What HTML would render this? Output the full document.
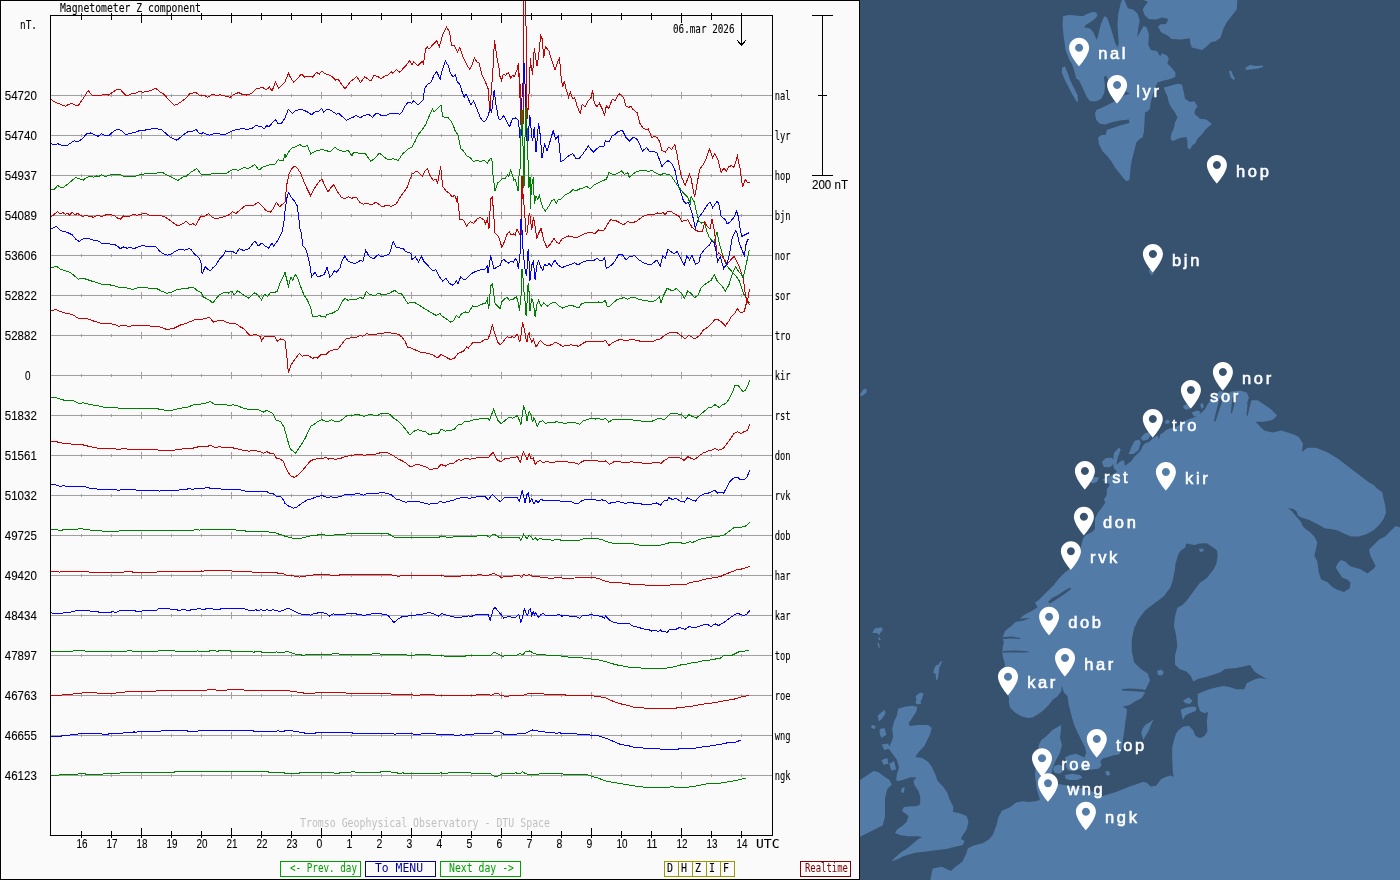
<!DOCTYPE html>
<html><head><meta charset="utf-8"><title>Magnetometer Z component</title>
<style>html,body{margin:0;padding:0;background:#37526f;width:1400px;height:880px;overflow:hidden}
#wrap{position:relative;width:1400px;height:880px}</style></head>
<body><div id="wrap"><svg width="860" height="880" viewBox="0 0 860 880" shape-rendering="crispEdges" style="position:absolute;left:0;top:0;will-change:transform"><rect x="0" y="0" width="860" height="880" fill="#fafafa"/><path d="M51 95.5H772 M81.5 94V97 M111.5 94V97 M141.5 92V99 M171.5 94V97 M201.5 94V97 M231.5 92V99 M261.5 94V97 M291.5 94V97 M321.5 92V99 M351.5 94V97 M381.5 94V97 M411.5 92V99 M441.5 94V97 M471.5 94V97 M501.5 92V99 M531.5 94V97 M561.5 94V97 M591.5 92V99 M621.5 94V97 M651.5 94V97 M681.5 92V99 M711.5 94V97 M741.5 94V97 M51 135.5H772 M81.5 134V137 M111.5 134V137 M141.5 132V139 M171.5 134V137 M201.5 134V137 M231.5 132V139 M261.5 134V137 M291.5 134V137 M321.5 132V139 M351.5 134V137 M381.5 134V137 M411.5 132V139 M441.5 134V137 M471.5 134V137 M501.5 132V139 M531.5 134V137 M561.5 134V137 M591.5 132V139 M621.5 134V137 M651.5 134V137 M681.5 132V139 M711.5 134V137 M741.5 134V137 M51 175.5H772 M81.5 174V177 M111.5 174V177 M141.5 172V179 M171.5 174V177 M201.5 174V177 M231.5 172V179 M261.5 174V177 M291.5 174V177 M321.5 172V179 M351.5 174V177 M381.5 174V177 M411.5 172V179 M441.5 174V177 M471.5 174V177 M501.5 172V179 M531.5 174V177 M561.5 174V177 M591.5 172V179 M621.5 174V177 M651.5 174V177 M681.5 172V179 M711.5 174V177 M741.5 174V177 M51 215.5H772 M81.5 214V217 M111.5 214V217 M141.5 212V219 M171.5 214V217 M201.5 214V217 M231.5 212V219 M261.5 214V217 M291.5 214V217 M321.5 212V219 M351.5 214V217 M381.5 214V217 M411.5 212V219 M441.5 214V217 M471.5 214V217 M501.5 212V219 M531.5 214V217 M561.5 214V217 M591.5 212V219 M621.5 214V217 M651.5 214V217 M681.5 212V219 M711.5 214V217 M741.5 214V217 M51 255.5H772 M81.5 254V257 M111.5 254V257 M141.5 252V259 M171.5 254V257 M201.5 254V257 M231.5 252V259 M261.5 254V257 M291.5 254V257 M321.5 252V259 M351.5 254V257 M381.5 254V257 M411.5 252V259 M441.5 254V257 M471.5 254V257 M501.5 252V259 M531.5 254V257 M561.5 254V257 M591.5 252V259 M621.5 254V257 M651.5 254V257 M681.5 252V259 M711.5 254V257 M741.5 254V257 M51 295.5H772 M81.5 294V297 M111.5 294V297 M141.5 292V299 M171.5 294V297 M201.5 294V297 M231.5 292V299 M261.5 294V297 M291.5 294V297 M321.5 292V299 M351.5 294V297 M381.5 294V297 M411.5 292V299 M441.5 294V297 M471.5 294V297 M501.5 292V299 M531.5 294V297 M561.5 294V297 M591.5 292V299 M621.5 294V297 M651.5 294V297 M681.5 292V299 M711.5 294V297 M741.5 294V297 M51 335.5H772 M81.5 334V337 M111.5 334V337 M141.5 332V339 M171.5 334V337 M201.5 334V337 M231.5 332V339 M261.5 334V337 M291.5 334V337 M321.5 332V339 M351.5 334V337 M381.5 334V337 M411.5 332V339 M441.5 334V337 M471.5 334V337 M501.5 332V339 M531.5 334V337 M561.5 334V337 M591.5 332V339 M621.5 334V337 M651.5 334V337 M681.5 332V339 M711.5 334V337 M741.5 334V337 M51 375.5H772 M81.5 374V377 M111.5 374V377 M141.5 372V379 M171.5 374V377 M201.5 374V377 M231.5 372V379 M261.5 374V377 M291.5 374V377 M321.5 372V379 M351.5 374V377 M381.5 374V377 M411.5 372V379 M441.5 374V377 M471.5 374V377 M501.5 372V379 M531.5 374V377 M561.5 374V377 M591.5 372V379 M621.5 374V377 M651.5 374V377 M681.5 372V379 M711.5 374V377 M741.5 374V377 M51 415.5H772 M81.5 414V417 M111.5 414V417 M141.5 412V419 M171.5 414V417 M201.5 414V417 M231.5 412V419 M261.5 414V417 M291.5 414V417 M321.5 412V419 M351.5 414V417 M381.5 414V417 M411.5 412V419 M441.5 414V417 M471.5 414V417 M501.5 412V419 M531.5 414V417 M561.5 414V417 M591.5 412V419 M621.5 414V417 M651.5 414V417 M681.5 412V419 M711.5 414V417 M741.5 414V417 M51 455.5H772 M81.5 454V457 M111.5 454V457 M141.5 452V459 M171.5 454V457 M201.5 454V457 M231.5 452V459 M261.5 454V457 M291.5 454V457 M321.5 452V459 M351.5 454V457 M381.5 454V457 M411.5 452V459 M441.5 454V457 M471.5 454V457 M501.5 452V459 M531.5 454V457 M561.5 454V457 M591.5 452V459 M621.5 454V457 M651.5 454V457 M681.5 452V459 M711.5 454V457 M741.5 454V457 M51 495.5H772 M81.5 494V497 M111.5 494V497 M141.5 492V499 M171.5 494V497 M201.5 494V497 M231.5 492V499 M261.5 494V497 M291.5 494V497 M321.5 492V499 M351.5 494V497 M381.5 494V497 M411.5 492V499 M441.5 494V497 M471.5 494V497 M501.5 492V499 M531.5 494V497 M561.5 494V497 M591.5 492V499 M621.5 494V497 M651.5 494V497 M681.5 492V499 M711.5 494V497 M741.5 494V497 M51 535.5H772 M81.5 534V537 M111.5 534V537 M141.5 532V539 M171.5 534V537 M201.5 534V537 M231.5 532V539 M261.5 534V537 M291.5 534V537 M321.5 532V539 M351.5 534V537 M381.5 534V537 M411.5 532V539 M441.5 534V537 M471.5 534V537 M501.5 532V539 M531.5 534V537 M561.5 534V537 M591.5 532V539 M621.5 534V537 M651.5 534V537 M681.5 532V539 M711.5 534V537 M741.5 534V537 M51 575.5H772 M81.5 574V577 M111.5 574V577 M141.5 572V579 M171.5 574V577 M201.5 574V577 M231.5 572V579 M261.5 574V577 M291.5 574V577 M321.5 572V579 M351.5 574V577 M381.5 574V577 M411.5 572V579 M441.5 574V577 M471.5 574V577 M501.5 572V579 M531.5 574V577 M561.5 574V577 M591.5 572V579 M621.5 574V577 M651.5 574V577 M681.5 572V579 M711.5 574V577 M741.5 574V577 M51 615.5H772 M81.5 614V617 M111.5 614V617 M141.5 612V619 M171.5 614V617 M201.5 614V617 M231.5 612V619 M261.5 614V617 M291.5 614V617 M321.5 612V619 M351.5 614V617 M381.5 614V617 M411.5 612V619 M441.5 614V617 M471.5 614V617 M501.5 612V619 M531.5 614V617 M561.5 614V617 M591.5 612V619 M621.5 614V617 M651.5 614V617 M681.5 612V619 M711.5 614V617 M741.5 614V617 M51 655.5H772 M81.5 654V657 M111.5 654V657 M141.5 652V659 M171.5 654V657 M201.5 654V657 M231.5 652V659 M261.5 654V657 M291.5 654V657 M321.5 652V659 M351.5 654V657 M381.5 654V657 M411.5 652V659 M441.5 654V657 M471.5 654V657 M501.5 652V659 M531.5 654V657 M561.5 654V657 M591.5 652V659 M621.5 654V657 M651.5 654V657 M681.5 652V659 M711.5 654V657 M741.5 654V657 M51 695.5H772 M81.5 694V697 M111.5 694V697 M141.5 692V699 M171.5 694V697 M201.5 694V697 M231.5 692V699 M261.5 694V697 M291.5 694V697 M321.5 692V699 M351.5 694V697 M381.5 694V697 M411.5 692V699 M441.5 694V697 M471.5 694V697 M501.5 692V699 M531.5 694V697 M561.5 694V697 M591.5 692V699 M621.5 694V697 M651.5 694V697 M681.5 692V699 M711.5 694V697 M741.5 694V697 M51 735.5H772 M81.5 734V737 M111.5 734V737 M141.5 732V739 M171.5 734V737 M201.5 734V737 M231.5 732V739 M261.5 734V737 M291.5 734V737 M321.5 732V739 M351.5 734V737 M381.5 734V737 M411.5 732V739 M441.5 734V737 M471.5 734V737 M501.5 732V739 M531.5 734V737 M561.5 734V737 M591.5 732V739 M621.5 734V737 M651.5 734V737 M681.5 732V739 M711.5 734V737 M741.5 734V737 M51 775.5H772 M81.5 774V777 M111.5 774V777 M141.5 772V779 M171.5 774V777 M201.5 774V777 M231.5 772V779 M261.5 774V777 M291.5 774V777 M321.5 772V779 M351.5 774V777 M381.5 774V777 M411.5 772V779 M441.5 774V777 M471.5 774V777 M501.5 772V779 M531.5 774V777 M561.5 774V777 M591.5 772V779 M621.5 774V777 M651.5 774V777 M681.5 772V779 M711.5 774V777 M741.5 774V777" stroke="#a0a0a0" stroke-width="1" fill="none"/><path d="M50.5 15V835.5 M50 15.5H773 M772.5 15V836 M50 835.5H773 M81.5 13V20 M81.5 831V838 M111.5 13V20 M111.5 831V838 M141.5 13V23 M141.5 828V838 M171.5 13V20 M171.5 831V838 M201.5 13V20 M201.5 831V838 M231.5 13V23 M231.5 828V838 M261.5 13V20 M261.5 831V838 M291.5 13V20 M291.5 831V838 M321.5 13V23 M321.5 828V838 M351.5 13V20 M351.5 831V838 M381.5 13V20 M381.5 831V838 M411.5 13V23 M411.5 828V838 M441.5 13V20 M441.5 831V838 M471.5 13V20 M471.5 831V838 M501.5 13V23 M501.5 828V838 M531.5 13V20 M531.5 831V838 M561.5 13V20 M561.5 831V838 M591.5 13V23 M591.5 828V838 M621.5 13V20 M621.5 831V838 M651.5 13V20 M651.5 831V838 M681.5 13V23 M681.5 828V838 M711.5 13V20 M711.5 831V838 M741.5 13V20 M741.5 831V838 M812 15.5H833 M822.5 15V175 M812 175.5H833 M818 95.5H827 M741.5 13V46 M737.5 40.5L741.5 45.5L745.5 40.5" stroke="#000" stroke-width="1" fill="none"/><g><text x="60" y="12" font-size="12.2" fill="#000" stroke="#000" stroke-width="0.1" text-anchor="start" font-family="DejaVu Sans Mono, Liberation Mono, monospace" textLength="141" lengthAdjust="spacingAndGlyphs">Magnetometer Z component</text><text x="20" y="29" font-size="12.2" fill="#000" stroke="#000" stroke-width="0.1" text-anchor="start" font-family="DejaVu Sans Mono, Liberation Mono, monospace" textLength="17" lengthAdjust="spacingAndGlyphs">nT.</text><text x="774.8" y="100" font-size="12.2" fill="#000" stroke="#000" stroke-width="0.1" text-anchor="start" font-family="DejaVu Sans Mono, Liberation Mono, monospace" textLength="15.8" lengthAdjust="spacingAndGlyphs">nal</text><text x="4.8" y="100" font-size="12.6" fill="#000" stroke="#000" stroke-width="0.1" text-anchor="start" font-family="Liberation Sans, DejaVu Sans, sans-serif" textLength="32" lengthAdjust="spacingAndGlyphs">54720</text><text x="774.8" y="140" font-size="12.2" fill="#000" stroke="#000" stroke-width="0.1" text-anchor="start" font-family="DejaVu Sans Mono, Liberation Mono, monospace" textLength="15.8" lengthAdjust="spacingAndGlyphs">lyr</text><text x="4.8" y="140" font-size="12.6" fill="#000" stroke="#000" stroke-width="0.1" text-anchor="start" font-family="Liberation Sans, DejaVu Sans, sans-serif" textLength="32" lengthAdjust="spacingAndGlyphs">54740</text><text x="774.8" y="180" font-size="12.2" fill="#000" stroke="#000" stroke-width="0.1" text-anchor="start" font-family="DejaVu Sans Mono, Liberation Mono, monospace" textLength="15.8" lengthAdjust="spacingAndGlyphs">hop</text><text x="4.8" y="180" font-size="12.6" fill="#000" stroke="#000" stroke-width="0.1" text-anchor="start" font-family="Liberation Sans, DejaVu Sans, sans-serif" textLength="32" lengthAdjust="spacingAndGlyphs">54937</text><text x="774.8" y="220" font-size="12.2" fill="#000" stroke="#000" stroke-width="0.1" text-anchor="start" font-family="DejaVu Sans Mono, Liberation Mono, monospace" textLength="15.8" lengthAdjust="spacingAndGlyphs">bjn</text><text x="4.8" y="220" font-size="12.6" fill="#000" stroke="#000" stroke-width="0.1" text-anchor="start" font-family="Liberation Sans, DejaVu Sans, sans-serif" textLength="32" lengthAdjust="spacingAndGlyphs">54089</text><text x="774.8" y="260" font-size="12.2" fill="#000" stroke="#000" stroke-width="0.1" text-anchor="start" font-family="DejaVu Sans Mono, Liberation Mono, monospace" textLength="15.8" lengthAdjust="spacingAndGlyphs">nor</text><text x="4.8" y="260" font-size="12.6" fill="#000" stroke="#000" stroke-width="0.1" text-anchor="start" font-family="Liberation Sans, DejaVu Sans, sans-serif" textLength="32" lengthAdjust="spacingAndGlyphs">53606</text><text x="774.8" y="300" font-size="12.2" fill="#000" stroke="#000" stroke-width="0.1" text-anchor="start" font-family="DejaVu Sans Mono, Liberation Mono, monospace" textLength="15.8" lengthAdjust="spacingAndGlyphs">sor</text><text x="4.8" y="300" font-size="12.6" fill="#000" stroke="#000" stroke-width="0.1" text-anchor="start" font-family="Liberation Sans, DejaVu Sans, sans-serif" textLength="32" lengthAdjust="spacingAndGlyphs">52822</text><text x="774.8" y="340" font-size="12.2" fill="#000" stroke="#000" stroke-width="0.1" text-anchor="start" font-family="DejaVu Sans Mono, Liberation Mono, monospace" textLength="15.8" lengthAdjust="spacingAndGlyphs">tro</text><text x="4.8" y="340" font-size="12.6" fill="#000" stroke="#000" stroke-width="0.1" text-anchor="start" font-family="Liberation Sans, DejaVu Sans, sans-serif" textLength="32" lengthAdjust="spacingAndGlyphs">52882</text><text x="774.8" y="380" font-size="12.2" fill="#000" stroke="#000" stroke-width="0.1" text-anchor="start" font-family="DejaVu Sans Mono, Liberation Mono, monospace" textLength="15.8" lengthAdjust="spacingAndGlyphs">kir</text><text x="25" y="380" font-size="12.6" fill="#000" stroke="#000" stroke-width="0.1" text-anchor="start" font-family="Liberation Sans, DejaVu Sans, sans-serif" textLength="5.5" lengthAdjust="spacingAndGlyphs">0</text><text x="774.8" y="420" font-size="12.2" fill="#000" stroke="#000" stroke-width="0.1" text-anchor="start" font-family="DejaVu Sans Mono, Liberation Mono, monospace" textLength="15.8" lengthAdjust="spacingAndGlyphs">rst</text><text x="4.8" y="420" font-size="12.6" fill="#000" stroke="#000" stroke-width="0.1" text-anchor="start" font-family="Liberation Sans, DejaVu Sans, sans-serif" textLength="32" lengthAdjust="spacingAndGlyphs">51832</text><text x="774.8" y="460" font-size="12.2" fill="#000" stroke="#000" stroke-width="0.1" text-anchor="start" font-family="DejaVu Sans Mono, Liberation Mono, monospace" textLength="15.8" lengthAdjust="spacingAndGlyphs">don</text><text x="4.8" y="460" font-size="12.6" fill="#000" stroke="#000" stroke-width="0.1" text-anchor="start" font-family="Liberation Sans, DejaVu Sans, sans-serif" textLength="32" lengthAdjust="spacingAndGlyphs">51561</text><text x="774.8" y="500" font-size="12.2" fill="#000" stroke="#000" stroke-width="0.1" text-anchor="start" font-family="DejaVu Sans Mono, Liberation Mono, monospace" textLength="15.8" lengthAdjust="spacingAndGlyphs">rvk</text><text x="4.8" y="500" font-size="12.6" fill="#000" stroke="#000" stroke-width="0.1" text-anchor="start" font-family="Liberation Sans, DejaVu Sans, sans-serif" textLength="32" lengthAdjust="spacingAndGlyphs">51032</text><text x="774.8" y="540" font-size="12.2" fill="#000" stroke="#000" stroke-width="0.1" text-anchor="start" font-family="DejaVu Sans Mono, Liberation Mono, monospace" textLength="15.8" lengthAdjust="spacingAndGlyphs">dob</text><text x="4.8" y="540" font-size="12.6" fill="#000" stroke="#000" stroke-width="0.1" text-anchor="start" font-family="Liberation Sans, DejaVu Sans, sans-serif" textLength="32" lengthAdjust="spacingAndGlyphs">49725</text><text x="774.8" y="580" font-size="12.2" fill="#000" stroke="#000" stroke-width="0.1" text-anchor="start" font-family="DejaVu Sans Mono, Liberation Mono, monospace" textLength="15.8" lengthAdjust="spacingAndGlyphs">har</text><text x="4.8" y="580" font-size="12.6" fill="#000" stroke="#000" stroke-width="0.1" text-anchor="start" font-family="Liberation Sans, DejaVu Sans, sans-serif" textLength="32" lengthAdjust="spacingAndGlyphs">49420</text><text x="774.8" y="620" font-size="12.2" fill="#000" stroke="#000" stroke-width="0.1" text-anchor="start" font-family="DejaVu Sans Mono, Liberation Mono, monospace" textLength="15.8" lengthAdjust="spacingAndGlyphs">kar</text><text x="4.8" y="620" font-size="12.6" fill="#000" stroke="#000" stroke-width="0.1" text-anchor="start" font-family="Liberation Sans, DejaVu Sans, sans-serif" textLength="32" lengthAdjust="spacingAndGlyphs">48434</text><text x="774.8" y="660" font-size="12.2" fill="#000" stroke="#000" stroke-width="0.1" text-anchor="start" font-family="DejaVu Sans Mono, Liberation Mono, monospace" textLength="15.8" lengthAdjust="spacingAndGlyphs">top</text><text x="4.8" y="660" font-size="12.6" fill="#000" stroke="#000" stroke-width="0.1" text-anchor="start" font-family="Liberation Sans, DejaVu Sans, sans-serif" textLength="32" lengthAdjust="spacingAndGlyphs">47897</text><text x="774.8" y="700" font-size="12.2" fill="#000" stroke="#000" stroke-width="0.1" text-anchor="start" font-family="DejaVu Sans Mono, Liberation Mono, monospace" textLength="15.8" lengthAdjust="spacingAndGlyphs">roe</text><text x="4.8" y="700" font-size="12.6" fill="#000" stroke="#000" stroke-width="0.1" text-anchor="start" font-family="Liberation Sans, DejaVu Sans, sans-serif" textLength="32" lengthAdjust="spacingAndGlyphs">46763</text><text x="774.8" y="740" font-size="12.2" fill="#000" stroke="#000" stroke-width="0.1" text-anchor="start" font-family="DejaVu Sans Mono, Liberation Mono, monospace" textLength="15.8" lengthAdjust="spacingAndGlyphs">wng</text><text x="4.8" y="740" font-size="12.6" fill="#000" stroke="#000" stroke-width="0.1" text-anchor="start" font-family="Liberation Sans, DejaVu Sans, sans-serif" textLength="32" lengthAdjust="spacingAndGlyphs">46655</text><text x="774.8" y="780" font-size="12.2" fill="#000" stroke="#000" stroke-width="0.1" text-anchor="start" font-family="DejaVu Sans Mono, Liberation Mono, monospace" textLength="15.8" lengthAdjust="spacingAndGlyphs">ngk</text><text x="4.8" y="780" font-size="12.6" fill="#000" stroke="#000" stroke-width="0.1" text-anchor="start" font-family="Liberation Sans, DejaVu Sans, sans-serif" textLength="32" lengthAdjust="spacingAndGlyphs">46123</text><text x="76.5" y="848" font-size="12.6" fill="#000" stroke="#000" stroke-width="0.1" text-anchor="start" font-family="Liberation Sans, DejaVu Sans, sans-serif" textLength="11" lengthAdjust="spacingAndGlyphs">16</text><text x="106.5" y="848" font-size="12.6" fill="#000" stroke="#000" stroke-width="0.1" text-anchor="start" font-family="Liberation Sans, DejaVu Sans, sans-serif" textLength="11" lengthAdjust="spacingAndGlyphs">17</text><text x="136.5" y="848" font-size="12.6" fill="#000" stroke="#000" stroke-width="0.1" text-anchor="start" font-family="Liberation Sans, DejaVu Sans, sans-serif" textLength="11" lengthAdjust="spacingAndGlyphs">18</text><text x="166.5" y="848" font-size="12.6" fill="#000" stroke="#000" stroke-width="0.1" text-anchor="start" font-family="Liberation Sans, DejaVu Sans, sans-serif" textLength="11" lengthAdjust="spacingAndGlyphs">19</text><text x="196.5" y="848" font-size="12.6" fill="#000" stroke="#000" stroke-width="0.1" text-anchor="start" font-family="Liberation Sans, DejaVu Sans, sans-serif" textLength="11" lengthAdjust="spacingAndGlyphs">20</text><text x="226.5" y="848" font-size="12.6" fill="#000" stroke="#000" stroke-width="0.1" text-anchor="start" font-family="Liberation Sans, DejaVu Sans, sans-serif" textLength="11" lengthAdjust="spacingAndGlyphs">21</text><text x="256.5" y="848" font-size="12.6" fill="#000" stroke="#000" stroke-width="0.1" text-anchor="start" font-family="Liberation Sans, DejaVu Sans, sans-serif" textLength="11" lengthAdjust="spacingAndGlyphs">22</text><text x="286.5" y="848" font-size="12.6" fill="#000" stroke="#000" stroke-width="0.1" text-anchor="start" font-family="Liberation Sans, DejaVu Sans, sans-serif" textLength="11" lengthAdjust="spacingAndGlyphs">23</text><text x="316.5" y="848" font-size="12.6" fill="#000" stroke="#000" stroke-width="0.1" text-anchor="start" font-family="Liberation Sans, DejaVu Sans, sans-serif" textLength="5.8" lengthAdjust="spacingAndGlyphs">0</text><text x="346.5" y="848" font-size="12.6" fill="#000" stroke="#000" stroke-width="0.1" text-anchor="start" font-family="Liberation Sans, DejaVu Sans, sans-serif" textLength="5.8" lengthAdjust="spacingAndGlyphs">1</text><text x="376.5" y="848" font-size="12.6" fill="#000" stroke="#000" stroke-width="0.1" text-anchor="start" font-family="Liberation Sans, DejaVu Sans, sans-serif" textLength="5.8" lengthAdjust="spacingAndGlyphs">2</text><text x="406.5" y="848" font-size="12.6" fill="#000" stroke="#000" stroke-width="0.1" text-anchor="start" font-family="Liberation Sans, DejaVu Sans, sans-serif" textLength="5.8" lengthAdjust="spacingAndGlyphs">3</text><text x="436.5" y="848" font-size="12.6" fill="#000" stroke="#000" stroke-width="0.1" text-anchor="start" font-family="Liberation Sans, DejaVu Sans, sans-serif" textLength="5.8" lengthAdjust="spacingAndGlyphs">4</text><text x="466.5" y="848" font-size="12.6" fill="#000" stroke="#000" stroke-width="0.1" text-anchor="start" font-family="Liberation Sans, DejaVu Sans, sans-serif" textLength="5.8" lengthAdjust="spacingAndGlyphs">5</text><text x="496.5" y="848" font-size="12.6" fill="#000" stroke="#000" stroke-width="0.1" text-anchor="start" font-family="Liberation Sans, DejaVu Sans, sans-serif" textLength="5.8" lengthAdjust="spacingAndGlyphs">6</text><text x="526.5" y="848" font-size="12.6" fill="#000" stroke="#000" stroke-width="0.1" text-anchor="start" font-family="Liberation Sans, DejaVu Sans, sans-serif" textLength="5.8" lengthAdjust="spacingAndGlyphs">7</text><text x="556.5" y="848" font-size="12.6" fill="#000" stroke="#000" stroke-width="0.1" text-anchor="start" font-family="Liberation Sans, DejaVu Sans, sans-serif" textLength="5.8" lengthAdjust="spacingAndGlyphs">8</text><text x="586.5" y="848" font-size="12.6" fill="#000" stroke="#000" stroke-width="0.1" text-anchor="start" font-family="Liberation Sans, DejaVu Sans, sans-serif" textLength="5.8" lengthAdjust="spacingAndGlyphs">9</text><text x="616.5" y="848" font-size="12.6" fill="#000" stroke="#000" stroke-width="0.1" text-anchor="start" font-family="Liberation Sans, DejaVu Sans, sans-serif" textLength="11" lengthAdjust="spacingAndGlyphs">10</text><text x="646.5" y="848" font-size="12.6" fill="#000" stroke="#000" stroke-width="0.1" text-anchor="start" font-family="Liberation Sans, DejaVu Sans, sans-serif" textLength="11" lengthAdjust="spacingAndGlyphs">11</text><text x="676.5" y="848" font-size="12.6" fill="#000" stroke="#000" stroke-width="0.1" text-anchor="start" font-family="Liberation Sans, DejaVu Sans, sans-serif" textLength="11" lengthAdjust="spacingAndGlyphs">12</text><text x="706.5" y="848" font-size="12.6" fill="#000" stroke="#000" stroke-width="0.1" text-anchor="start" font-family="Liberation Sans, DejaVu Sans, sans-serif" textLength="11" lengthAdjust="spacingAndGlyphs">13</text><text x="736.5" y="848" font-size="12.6" fill="#000" stroke="#000" stroke-width="0.1" text-anchor="start" font-family="Liberation Sans, DejaVu Sans, sans-serif" textLength="11" lengthAdjust="spacingAndGlyphs">14</text><text x="756" y="848" font-size="12.2" fill="#000" stroke="#000" stroke-width="0.1" text-anchor="start" font-family="DejaVu Sans Mono, Liberation Mono, monospace" textLength="23.5" lengthAdjust="spacingAndGlyphs">UTC</text><text x="673" y="33" font-size="12.2" fill="#000" stroke="#000" stroke-width="0.1" text-anchor="start" font-family="DejaVu Sans Mono, Liberation Mono, monospace" textLength="61.5" lengthAdjust="spacingAndGlyphs">06.mar 2026</text><text x="812" y="189" font-size="12.6" fill="#000" stroke="#000" stroke-width="0.1" text-anchor="start" font-family="Liberation Sans, DejaVu Sans, sans-serif" textLength="36" lengthAdjust="spacingAndGlyphs">200 nT</text><text x="300" y="827" font-size="12.2" fill="#c0c0c0" stroke="#c0c0c0" stroke-width="0" text-anchor="start" font-family="DejaVu Sans Mono, Liberation Mono, monospace" textLength="250" lengthAdjust="spacingAndGlyphs">Tromso Geophysical Observatory - DTU Space</text></g><rect x="280.5" y="861.5" width="80" height="15" fill="none" stroke="#00a000"/><rect x="281.5" y="862.5" width="78" height="13" fill="none" stroke="#fff"/><text x="290" y="872" font-size="12.2" fill="#00a000" stroke="#00a000" stroke-width="0" text-anchor="start" font-family="DejaVu Sans Mono, Liberation Mono, monospace" textLength="67" lengthAdjust="spacingAndGlyphs">&lt;- Prev. day</text><rect x="365.5" y="861.5" width="70" height="15" fill="none" stroke="#0000a0"/><rect x="366.5" y="862.5" width="68" height="13" fill="none" stroke="#fff"/><text x="375" y="872" font-size="12.2" fill="#0000a0" stroke="#0000a0" stroke-width="0" text-anchor="start" font-family="DejaVu Sans Mono, Liberation Mono, monospace" textLength="48" lengthAdjust="spacingAndGlyphs">To MENU</text><rect x="440.5" y="861.5" width="80" height="15" fill="none" stroke="#00a000"/><rect x="441.5" y="862.5" width="78" height="13" fill="none" stroke="#fff"/><text x="449" y="872" font-size="12.2" fill="#00a000" stroke="#00a000" stroke-width="0" text-anchor="start" font-family="DejaVu Sans Mono, Liberation Mono, monospace" textLength="65" lengthAdjust="spacingAndGlyphs">Next day -&gt;</text><rect x="800.5" y="861.5" width="50" height="15" fill="none" stroke="#800000"/><rect x="801.5" y="862.5" width="48" height="13" fill="none" stroke="#fff"/><text x="805" y="872" font-size="12.2" fill="#800000" stroke="#800000" stroke-width="0" text-anchor="start" font-family="DejaVu Sans Mono, Liberation Mono, monospace" textLength="43" lengthAdjust="spacingAndGlyphs">Realtime</text><rect x="664.5" y="861.5" width="70" height="15" fill="none" stroke="#999900"/><path d="M678.5 861V877" stroke="#999900"/><path d="M692.5 861V877" stroke="#999900"/><path d="M706.5 861V877" stroke="#999900"/><path d="M720.5 861V877" stroke="#999900"/><text x="667" y="872" font-size="12.2" fill="#000" stroke="#000" stroke-width="0.1" text-anchor="start" font-family="DejaVu Sans Mono, Liberation Mono, monospace" textLength="6" lengthAdjust="spacingAndGlyphs">D</text><text x="681" y="872" font-size="12.2" fill="#000" stroke="#000" stroke-width="0.1" text-anchor="start" font-family="DejaVu Sans Mono, Liberation Mono, monospace" textLength="6" lengthAdjust="spacingAndGlyphs">H</text><text x="695" y="872" font-size="12.2" fill="#000" stroke="#000" stroke-width="0.1" text-anchor="start" font-family="DejaVu Sans Mono, Liberation Mono, monospace" textLength="6" lengthAdjust="spacingAndGlyphs">Z</text><text x="709" y="872" font-size="12.2" fill="#000" stroke="#000" stroke-width="0.1" text-anchor="start" font-family="DejaVu Sans Mono, Liberation Mono, monospace" textLength="6" lengthAdjust="spacingAndGlyphs">I</text><text x="723" y="872" font-size="12.2" fill="#000" stroke="#000" stroke-width="0.1" text-anchor="start" font-family="DejaVu Sans Mono, Liberation Mono, monospace" textLength="6" lengthAdjust="spacingAndGlyphs">F</text><g shape-rendering="crispEdges"><polyline points="50.9,99.4 53.4,101.1 56.9,102.9 60.3,104.2 65.4,106.3 68.9,104.2 72.3,103.7 75.7,105.4 78.3,105.4 84.3,96.9 88.1,90.5 92.0,95.1 99.7,95.7 104.0,94.3 108.3,95.1 116.9,89.5 120.3,89.5 125.4,95.1 128.0,95.5 132.3,93.4 135.7,93.4 139.1,91.2 142.6,92.2 146.9,91.7 151.1,90.5 155.9,88.3 159.7,91.7 164.0,94.3 170.0,101.1 174.3,105.4 177.7,104.2 185.4,98.6 189.7,93.9 192.3,93.4 195.7,92.2 199.1,95.1 204.3,95.1 207.7,97.4 212.9,93.9 216.3,96.0 219.7,94.8 226.6,96.3 230.0,97.4 234.3,94.3 238.6,92.6 242.0,94.3 247.1,95.1 252.3,92.9 255.7,89.1 262.6,87.4 266.0,90.0 269.4,87.1 272.0,91.2 275.4,82.3 278.9,88.3 284.0,83.1 285.0,81.9 288.4,73.3 290.1,76.7 293.6,82.2 297.0,79.3 301.3,74.1 304.7,77.1 308.1,76.4 312.4,77.1 316.7,72.4 319.3,74.1 321.9,71.2 324.4,73.6 328.7,74.7 332.1,76.7 335.6,80.1 338.1,79.3 341.6,84.4 345.0,88.7 348.4,84.4 351.0,81.0 353.6,79.3 356.7,76.4 360.4,82.7 364.7,76.7 368.1,79.3 370.7,81.0 374.1,75.3 377.6,76.4 381.0,78.8 384.4,76.4 387.9,75.0 391.3,71.6 393.0,73.3 396.4,69.5 399.9,72.4 403.3,68.1 406.7,64.7 409.8,60.4 411.9,64.7 413.6,61.6 417.9,65.6 422.1,61.6 423.5,63.9 425.6,49.3 427.3,46.7 429.0,49.3 432.4,45.0 436.7,40.7 439.3,46.7 442.7,34.7 446.5,27.3 449.6,32.1 451.6,45.9 453.9,45.0 457.3,51.9 459.9,47.6 463.3,57.9 466.7,64.7 469.8,69.5 471.9,65.6 474.4,57.9 477.0,62.1 478.7,62.1 482.1,75.0 484.7,80.1 488.1,88.7 489.9,112.7 490.7,99.0 492.8,71.6 494.5,40.4 496.7,56.1 499.3,69.9 500.0,76.4 501.5,80.5 503.1,74.3 505.6,75.3 507.2,73.3 508.7,72.8 510.7,78.4 512.3,75.3 514.3,76.4 516.9,70.2 518.4,62.6 518.9,70.2 519.4,97.8 519.8,73.2 520.3,98.2 520.9,124.3 523.3,124.0 523.6,20.0 524.0,0.5 525.5,0.5 526.3,40.0 526.8,100.0 527.3,118.6 528.8,100.0 530.0,67.5 530.0,57.9 532.6,75.0 534.3,47.6 536.9,66.4 538.6,56.1 540.6,35.6 542.3,39.0 543.7,57.9 545.4,46.7 548.9,51.0 551.4,59.6 554.9,69.9 557.4,63.0 559.5,57.5 560.9,75.0 562.6,87.0 564.3,81.0 566.0,88.7 568.6,97.3 570.3,92.1 572.9,99.0 574.6,97.3 577.1,105.9 580.1,113.6 582.3,104.1 584.9,106.7 588.3,100.7 590.9,98.1 592.6,90.4 594.3,103.3 596.9,106.7 599.4,103.3 602.0,108.4 604.6,115.3 606.3,105.9 608.9,108.4 612.3,99.0 614.9,100.7 619.1,93.5 623.4,97.3 626.0,105.9 628.6,107.6 631.1,105.9 632.9,109.3 637.1,112.7 639.7,123.0 643.1,128.1 646.6,129.9 648.3,129.0 651.7,137.6 654.3,136.7 656.9,137.1 659.4,141.0 662.0,150.4 665.4,152.1 668.9,147.0 671.4,149.6 674.9,144.4 677.4,156.3 680.9,175.1 685.1,185.4 689.4,174.3 691.1,178.6 694.6,197.4 697.1,183.7 699.7,169.1 703.1,164.9 705.7,159.7 709.7,148.6 712.6,158.0 714.8,153.7 717.7,158.9 721.1,172.6 723.7,168.3 726.3,170.9 728.9,166.6 731.4,165.7 734.0,167.4 737.4,156.3 740.0,168.3 742.6,187.1 745.1,179.4 747.7,182.9 749.4,182.0" fill="none" stroke="#cc0000" stroke-width="1"/><polyline points="50.9,143.1 53.4,144.9 57.7,143.7 62.0,145.4 67.1,145.4 74.0,140.9 78.3,141.4 81.7,139.2 86.9,133.7 91.1,132.9 98.0,136.3 101.4,133.7 104.9,135.4 109.1,135.4 114.3,130.6 118.6,129.4 122.0,131.1 125.4,134.6 130.6,133.4 135.7,132.3 140.0,130.3 143.4,130.6 147.7,129.4 154.6,128.6 161.4,129.4 170.0,137.1 176.9,140.2 183.7,134.6 188.9,131.1 193.1,131.1 196.1,129.4 199.1,133.4 203.4,132.9 209.4,135.1 214.6,133.4 221.4,134.2 224.9,134.6 231.7,131.1 236.9,129.4 243.7,128.6 247.1,129.4 252.3,128.1 255.7,125.5 260.9,126.5 264.3,128.6 266.9,125.5 268.6,126.9 275.4,119.7 278.0,123.4 281.4,123.4 285.0,117.9 288.4,109.3 292.7,113.6 295.3,111.0 299.6,109.3 303.9,110.1 307.3,111.9 311.6,114.8 315.0,111.9 318.4,111.9 321.9,108.4 323.6,112.4 327.0,109.3 330.4,110.1 333.9,112.4 336.4,114.1 339.0,113.6 343.3,117.5 346.7,120.4 349.3,118.7 352.7,117.5 356.1,115.3 360.4,117.9 363.9,115.3 369.0,114.4 372.4,117.5 375.9,113.6 379.3,114.1 381.0,115.3 386.1,115.3 389.6,113.6 396.4,113.6 399.9,114.1 401.6,112.7 405.0,105.9 408.4,102.1 411.9,103.3 413.6,100.7 417.9,105.0 420.4,102.4 423.0,99.9 424.7,88.7 427.3,84.4 430.7,82.7 434.1,75.0 436.7,71.6 440.1,79.3 441.9,71.6 445.3,60.9 448.7,66.4 450.4,73.3 453.0,76.7 455.6,75.0 457.3,81.9 459.9,84.4 461.6,90.4 464.1,97.3 465.9,93.9 468.4,99.0 471.0,105.0 473.6,100.7 477.0,109.3 480.4,117.9 483.9,122.1 486.4,119.6 488.1,116.1 489.9,108.4 491.6,112.7 494.1,90.4 495.9,104.1 498.4,117.9 500.0,120.3 503.6,115.7 505.1,118.3 507.7,123.4 509.7,126.5 512.3,118.8 515.3,117.8 517.9,119.8 518.9,125.5 519.9,136.7 521.5,135.7 522.0,97.8 523.0,83.5 524.0,63.1 525.1,85.6 526.1,116.2 526.6,136.2 527.6,146.9 528.1,139.8 529.7,115.2 530.0,116.9 531.7,135.7 532.6,140.9 534.3,127.1 536.0,152.0 538.6,122.9 540.3,135.7 542.0,158.0 544.6,144.3 547.1,151.1 549.7,142.6 553.1,130.6 555.7,139.1 558.3,135.7 560.9,161.4 564.3,159.7 566.9,157.1 569.4,155.4 572.9,153.7 576.3,158.9 579.7,158.0 583.1,153.7 588.3,146.0 590.9,149.4 593.4,152.0 596.9,148.6 599.4,146.9 603.7,146.9 605.4,140.9 608.9,141.7 612.3,135.7 615.7,134.0 618.3,131.4 622.6,130.6 626.0,137.4 629.4,140.9 632.9,137.4 636.3,138.3 639.7,144.3 642.3,151.1 646.6,147.7 650.0,152.0 653.4,151.1 656.9,152.9 662.0,166.6 665.4,162.3 668.0,160.6 672.3,164.0 674.9,170.0 677.4,182.0 680.9,192.3 683.4,200.9 686.0,203.4 688.6,202.6 692.0,212.9 695.4,228.3 698.9,217.1 702.3,212.9 706.6,206.0 710.0,201.7 712.6,207.7 716.9,201.7 718.6,202.6 721.1,216.3 725.4,219.7 727.1,224.0 730.6,221.4 734.0,217.1 736.6,211.1 738.3,216.3 740.0,228.3 741.7,236.0 742.6,236.0 746.0,234.3 749.4,232.6" fill="none" stroke="#0000ff" stroke-width="1"/><polyline points="50.9,189.4 54.3,189.4 57.7,185.5 60.3,187.2 63.7,187.2 70.6,181.7 75.7,177.4 80.0,179.1 83.4,180.0 86.0,177.9 90.3,176.2 93.7,177.1 96.3,175.7 98.0,177.1 101.4,174.5 104.0,176.2 106.6,176.2 111.7,174.5 120.3,174.5 123.7,176.2 135.7,176.2 140.9,174.5 147.7,173.5 155.4,173.5 158.0,172.8 163.1,172.8 170.0,176.6 177.7,180.5 183.7,176.6 186.3,176.2 190.6,172.3 194.0,170.6 196.6,168.3 200.9,174.0 204.3,174.9 211.1,174.0 218.0,173.5 226.6,173.1 232.6,169.7 238.6,170.1 243.7,167.7 248.9,168.3 254.9,164.6 259.1,170.2 262.6,167.1 266.0,165.9 271.1,164.2 274.6,164.9 278.0,159.8 283.1,161.1 285.0,153.9 285.0,158.3 288.4,152.3 291.9,148.0 295.3,146.8 299.6,144.6 303.9,146.8 307.3,145.4 310.7,154.0 315.0,151.4 318.4,150.2 322.7,149.7 326.1,150.6 330.4,151.9 334.7,147.1 338.1,149.7 343.3,151.4 348.4,150.6 351.9,155.7 353.6,152.3 358.7,153.1 365.6,154.0 370.7,161.2 375.0,158.3 379.3,153.1 382.7,155.7 387.9,160.0 393.0,158.8 398.1,160.5 403.3,153.1 403.3,153.9 408.4,148.7 411.9,147.0 415.3,141.0 417.9,135.0 422.1,129.9 425.6,124.7 427.3,120.4 429.9,114.4 432.4,108.9 434.1,111.9 437.6,108.4 441.0,105.0 442.7,116.1 445.3,117.9 447.9,117.5 451.3,121.3 454.7,129.0 454.7,130.0 458.1,135.1 460.7,148.9 463.3,150.6 466.7,155.7 470.1,157.4 473.6,161.7 477.0,160.0 480.4,161.7 483.9,160.0 487.3,163.4 490.0,158.8 491.9,158.8 493.1,176.2 495.0,191.2 497.5,183.1 500.0,181.2 502.5,178.8 505.0,178.5 507.5,175.0 508.8,176.2 510.6,170.6 512.5,175.0 513.8,180.0 515.0,178.8 516.2,182.5 518.1,191.2 519.4,170.0 520.6,168.1 521.2,112.5 522.2,110.0 523.1,150.0 524.0,187.5 525.0,137.5 526.0,107.5 526.9,125.0 528.1,162.5 529.0,187.5 530.0,177.5 530.0,209.4 531.7,185.4 533.4,176.9 534.3,204.3 536.0,195.7 537.7,199.1 539.4,195.7 541.1,202.6 542.9,207.7 545.4,211.1 548.9,206.0 551.4,200.9 554.0,199.1 556.6,203.4 558.3,199.1 560.9,199.1 564.3,195.7 566.9,194.0 570.3,192.3 572.9,189.7 576.3,190.6 579.7,188.9 583.1,188.0 586.6,186.3 590.0,188.9 593.4,185.4 596.9,183.7 600.3,182.0 603.7,180.3 606.3,179.4 608.9,172.6 612.3,174.3 615.7,174.3 619.1,172.6 621.7,170.9 624.3,174.3 627.7,172.6 629.4,177.7 632.9,174.3 636.3,171.7 639.7,170.9 643.1,170.9 645.7,170.0 648.3,171.7 651.7,170.0 654.3,172.6 656.9,173.4 660.3,175.1 663.7,173.4 667.1,174.3 670.6,175.1 674.0,180.3 677.4,185.4 680.9,189.7 684.3,194.0 687.7,197.4 690.3,203.4 691.1,196.6 694.6,202.6 696.3,211.1 698.9,221.4 701.4,223.1 704.9,221.4 706.6,230.9 709.1,236.9 711.7,240.3 714.3,242.0 716.9,231.7 719.4,243.7 721.1,249.7 723.7,258.3 726.3,265.1 730.6,270.3 735.7,275.4 739.1,280.6 743.4,293.4 746.9,299.4 749.4,302.9" fill="none" stroke="#008000" stroke-width="1"/><polyline points="50.9,216.9 54.3,214.3 57.7,211.7 60.3,213.9 62.9,212.6 65.4,214.3 67.1,212.9 69.7,215.1 71.9,212.2 74.9,215.1 77.4,213.4 82.6,216.3 86.0,215.7 90.3,216.3 93.7,217.4 98.0,214.8 101.4,216.9 104.9,215.1 110.0,214.3 114.3,215.7 117.7,218.1 120.3,219.1 123.7,216.0 128.9,216.9 132.3,214.6 137.4,215.1 142.6,213.9 146.0,213.4 149.4,215.1 152.9,215.1 159.7,215.7 164.0,216.3 170.0,220.3 176.9,225.4 181.1,224.9 186.3,221.1 189.7,224.9 193.1,223.7 195.7,225.4 200.9,216.0 205.1,216.0 208.6,213.4 212.0,216.9 215.4,218.6 220.6,217.7 228.3,215.1 232.6,211.7 236.0,213.4 241.1,209.1 244.6,206.1 248.9,205.4 253.1,205.4 258.3,202.3 261.7,205.7 266.0,210.5 270.3,212.2 272.9,209.1 276.3,202.3 279.7,206.6 284.0,203.1 285.0,202.0 286.7,184.9 289.3,172.9 291.9,168.6 294.4,166.3 297.0,167.7 300.4,172.9 303.9,181.4 307.3,189.1 310.7,196.0 313.3,190.0 316.7,184.9 319.3,181.4 321.9,178.9 324.4,184.9 327.9,192.1 330.4,188.3 333.9,184.5 336.4,190.0 341.6,197.7 345.0,198.6 348.4,196.9 351.9,198.2 356.1,196.9 359.6,202.0 363.0,204.1 367.3,203.7 372.4,204.6 375.9,202.0 379.3,204.6 381.9,207.1 386.1,205.4 391.3,206.3 396.4,203.7 399.9,197.7 403.3,192.6 406.7,188.3 409.3,181.4 411.9,174.2 417.0,170.8 422.1,176.3 425.6,170.3 427.6,168.6 429.9,175.4 433.3,180.6 435.9,178.9 437.6,183.1 439.3,173.7 440.7,166.3 442.7,186.6 446.1,190.9 449.6,193.4 452.1,196.9 454.7,195.1 456.4,200.3 457.3,196.5 459.9,219.1 463.3,220.0 466.7,226.0 470.1,221.7 473.6,223.4 477.0,219.1 480.4,217.4 483.9,220.0 485.6,223.9 487.3,219.1 489.0,228.6 490.7,198.6 492.4,196.9 495.0,232.9 498.4,236.3 501.9,247.4 505.1,240.0 507.2,233.9 509.2,231.8 511.2,234.9 513.3,233.9 515.3,234.9 516.9,229.3 518.9,232.8 521.0,236.9 521.5,199.1 522.0,175.6 522.5,199.1 523.5,194.0 524.5,215.5 525.6,221.6 526.1,234.9 527.6,231.8 528.6,216.5 529.7,213.4 530.0,216.3 531.7,230.0 533.4,217.1 535.1,226.6 536.9,238.6 538.6,233.4 541.1,228.3 543.7,240.3 547.1,248.0 550.6,243.7 554.0,238.6 556.6,242.0 559.1,243.7 561.7,239.4 564.3,237.7 568.6,236.0 572.0,236.9 576.3,237.7 579.7,236.0 584.9,233.4 590.0,232.6 595.1,233.4 598.6,230.0 603.7,230.9 607.1,224.9 610.6,219.7 615.7,220.6 619.1,222.3 623.4,224.9 627.7,221.4 631.1,223.1 636.3,221.4 639.7,218.9 643.1,216.3 648.3,214.6 653.4,214.6 657.7,212.9 660.3,213.7 662.9,212.5 665.4,214.6 667.1,212.0 670.6,211.1 672.3,212.5 675.7,214.6 679.1,216.3 681.7,221.4 685.1,220.6 687.7,219.7 692.0,227.4 695.4,230.0 698.9,231.7 702.3,231.7 704.9,221.4 704.9,221.4 707.4,226.6 710.0,229.1 712.1,218.9 714.3,230.0 716.0,244.6 716.9,254.9 718.6,253.1 720.3,254.0 723.7,258.3 727.1,264.3 730.6,260.0 734.0,256.6 736.6,260.9 740.0,268.6 743.4,278.9 745.1,292.6 746.9,301.1 748.6,296.0 749.4,289.1" fill="none" stroke="#cc0000" stroke-width="1"/><polyline points="50.9,228.9 56.0,226.3 60.3,230.6 63.7,231.4 67.1,232.3 72.3,234.9 75.7,239.1 79.1,241.4 82.6,239.1 86.0,238.3 90.3,239.1 93.7,240.3 98.0,240.9 101.4,243.1 108.3,243.8 115.1,244.8 118.6,246.9 120.3,248.6 123.7,246.9 127.1,248.2 130.6,247.7 134.0,248.6 139.1,246.5 143.4,245.5 146.9,246.5 151.1,246.9 155.4,246.3 159.7,251.1 163.1,253.7 167.4,255.1 171.7,253.7 176.9,250.3 181.1,248.9 184.6,250.3 188.9,248.6 191.4,249.9 194.0,253.7 198.3,257.1 200.9,261.4 202.2,274.3 205.1,266.6 207.7,269.1 210.3,270.9 212.9,267.8 215.4,265.7 219.7,258.9 223.1,255.4 225.7,251.1 228.3,252.0 231.7,251.1 236.0,253.4 239.4,248.6 243.7,250.6 248.9,248.6 254.9,240.9 258.3,246.0 261.7,243.1 265.1,246.0 268.6,248.2 272.0,243.1 273.7,246.0 278.0,240.0 282.3,231.4 284.0,221.1 285.0,211.4 286.7,198.6 288.4,192.6 291.0,196.9 294.4,201.1 297.0,205.4 298.7,215.7 299.6,227.7 301.3,232.9 302.1,239.7 302.1,245.0 305.6,248.4 308.1,257.0 309.9,265.6 311.6,276.7 315.0,272.4 317.6,276.7 321.0,275.9 324.4,274.1 327.0,267.3 329.9,277.2 332.1,275.0 334.7,270.4 336.4,272.4 339.9,268.1 341.6,262.1 344.7,256.1 348.4,261.3 352.7,263.0 356.1,263.0 360.4,260.4 363.0,261.3 365.6,250.1 369.0,256.1 371.6,257.9 374.1,258.4 378.4,254.4 381.0,257.0 386.1,255.3 389.6,253.6 392.1,245.0 393.3,241.6 396.4,247.6 403.3,248.4 405.0,251.0 411.0,253.6 411.9,259.6 415.3,257.0 418.7,262.1 421.3,256.1 423.9,261.3 427.3,264.7 432.4,270.7 435.9,269.9 439.3,276.7 442.7,281.0 446.1,278.4 449.6,283.6 453.0,285.3 456.4,281.0 458.1,283.6 460.7,276.7 464.1,280.1 466.7,278.4 470.1,275.0 471.9,273.3 475.3,271.6 480.4,269.9 483.9,269.9 487.3,266.4 488.1,273.3 490.7,255.3 494.1,269.0 496.7,267.3 500.0,265.7 502.0,260.6 504.1,259.3 506.1,261.6 508.7,263.1 510.7,261.1 513.3,262.1 515.3,259.0 516.9,260.6 518.4,269.3 519.4,258.5 520.5,250.3 521.0,219.7 521.7,219.7 522.5,245.2 523.5,253.4 524.5,265.7 525.6,271.8 526.6,275.9 527.1,267.7 528.1,249.3 528.6,250.3 529.7,278.0 530.0,280.6 531.7,265.1 533.4,261.7 535.1,279.7 536.9,265.1 538.6,260.9 541.1,267.7 542.9,270.3 544.6,264.3 547.1,266.0 548.9,263.4 551.4,266.0 554.9,260.0 557.4,264.3 561.7,267.7 566.0,266.0 571.1,264.3 574.6,262.6 578.0,265.1 581.4,262.6 586.6,260.9 590.9,260.0 593.4,260.9 596.9,258.3 600.3,260.9 602.9,260.0 604.6,257.4 606.3,268.6 608.9,266.9 612.3,264.3 615.7,260.0 618.3,254.9 622.6,254.9 626.0,260.0 629.4,256.6 634.6,255.7 638.0,259.1 643.1,262.6 648.3,264.3 651.7,264.3 656.9,260.0 660.3,266.0 662.9,255.7 665.4,258.3 668.0,248.9 670.6,251.4 674.0,254.0 677.4,251.4 680.9,259.1 684.3,265.1 686.9,255.7 689.4,260.0 692.0,254.9 695.4,264.3 698.9,262.6 700.6,254.9 703.1,251.4 705.7,248.0 709.1,245.4 711.7,241.1 714.3,242.9 716.0,251.4 717.7,261.7 720.3,256.6 723.7,268.6 727.1,263.4 729.7,253.1 732.3,237.7 735.7,230.9 737.4,233.4 739.1,242.9 742.6,251.4 744.3,255.7 746.0,244.6 747.7,239.4 749.4,239.4" fill="none" stroke="#0000ff" stroke-width="1"/><polyline points="50.9,267.4 56.9,266.6 60.3,269.1 65.4,270.9 70.6,272.6 78.3,279.1 84.3,278.6 89.4,280.3 94.6,282.0 99.7,283.7 103.1,284.6 110.0,284.9 115.1,285.9 120.3,288.0 125.4,287.7 132.3,289.4 137.4,288.0 144.3,287.7 151.1,288.3 156.3,288.3 161.4,291.1 166.6,293.1 170.9,292.8 176.9,289.4 182.0,288.9 187.1,288.3 193.1,287.1 197.4,290.6 201.7,293.1 202.6,296.6 206.0,298.3 210.3,300.9 212.9,303.1 216.3,298.3 219.7,294.5 224.9,292.3 228.3,293.1 231.7,291.1 234.3,294.9 237.7,290.6 242.0,294.0 248.9,298.3 254.0,292.8 257.4,294.5 261.7,300.0 264.3,294.0 267.7,296.6 270.3,292.3 272.9,293.1 277.1,291.4 279.7,283.7 284.9,273.4 285.0,272.4 288.4,286.1 291.0,276.7 292.7,280.1 295.3,274.5 297.9,278.4 300.4,286.1 303.9,294.7 307.3,299.9 310.7,307.6 312.4,316.1 315.9,317.0 319.3,315.3 321.9,316.7 325.3,317.0 327.0,314.4 331.3,313.6 334.7,311.9 338.1,309.8 341.6,302.4 345.0,298.1 347.6,300.2 351.9,299.5 357.0,299.0 360.4,297.3 363.0,299.0 366.4,291.3 369.9,294.7 375.0,295.6 378.4,293.3 382.7,294.7 387.9,293.9 393.0,291.3 394.7,290.4 398.1,293.0 401.6,293.9 403.3,296.4 407.6,303.3 411.9,302.4 415.3,302.9 420.4,305.9 425.6,309.3 429.9,311.9 435.9,315.3 440.1,313.6 441.0,315.3 446.1,318.7 450.4,322.1 453.9,320.4 456.4,315.3 459.0,317.9 461.6,313.6 465.0,311.9 468.4,312.7 472.7,305.9 477.0,306.7 482.1,304.1 485.6,303.3 487.3,299.0 488.7,309.3 490.7,286.1 492.4,283.6 495.0,303.3 497.6,305.9 500.0,308.6 502.0,301.5 504.6,298.9 507.2,297.4 509.2,300.5 511.2,299.4 513.3,299.2 516.4,296.4 517.9,301.5 519.4,310.7 521.0,296.4 522.0,268.8 523.0,278.0 524.0,292.3 525.1,301.5 526.1,315.8 527.1,301.5 528.1,283.1 529.1,292.3 530.0,311.4 531.7,297.7 533.4,302.9 535.1,316.6 536.9,304.6 538.6,300.3 541.1,306.3 543.7,302.9 547.1,306.3 550.6,303.7 554.9,302.0 558.3,305.4 562.6,308.0 566.9,306.3 571.1,305.4 574.6,306.3 578.9,308.0 581.4,303.7 586.6,302.5 591.7,302.9 595.1,302.9 598.6,302.0 602.0,302.9 605.4,300.3 607.1,306.3 608.9,307.1 612.3,303.7 617.4,299.4 620.9,298.6 624.3,297.4 627.7,299.4 630.3,297.7 634.6,297.4 638.0,299.1 643.1,300.3 648.3,301.1 652.6,302.0 656.9,299.4 659.4,296.9 661.1,302.9 663.7,295.1 667.1,288.3 670.6,290.0 674.0,290.0 676.6,288.3 679.1,290.9 681.7,293.4 684.3,298.6 687.7,290.9 691.1,293.4 694.6,297.7 698.0,295.1 701.4,287.4 706.6,283.1 710.9,280.6 714.3,274.6 716.9,280.6 720.3,284.0 725.4,290.9 728.9,284.9 732.3,273.7 735.7,266.9 739.1,272.0 743.4,277.1 746.0,265.1 749.4,249.7" fill="none" stroke="#008000" stroke-width="1"/><polyline points="50.9,310.6 56.0,309.7 60.3,311.4 65.4,313.1 72.3,314.5 78.3,318.3 86.0,318.3 89.4,319.5 94.6,321.4 101.4,323.4 109.1,323.4 115.1,324.6 118.6,326.3 123.7,325.5 128.9,326.3 135.7,325.5 146.0,325.5 152.9,326.3 158.0,326.3 166.6,329.4 173.4,328.6 180.3,325.1 187.1,322.9 194.0,320.0 200.9,319.5 206.0,318.3 209.4,317.4 213.7,322.2 218.0,320.5 223.1,320.5 228.3,322.9 233.4,323.4 236.9,324.3 240.3,326.9 243.7,328.6 249.7,335.4 255.7,334.6 260.0,336.3 261.7,340.6 264.3,336.6 269.4,336.6 274.6,336.3 277.1,341.4 280.6,338.9 284.0,339.7 285.0,341.0 286.7,354.7 288.4,372.7 291.0,365.0 294.4,359.9 299.6,353.3 302.1,356.1 307.3,355.6 309.9,356.4 312.4,358.5 315.0,357.3 317.6,358.1 321.0,354.4 326.1,354.4 330.4,350.4 338.1,349.2 341.6,344.4 345.9,338.9 351.9,337.6 357.0,337.2 360.4,335.5 363.0,336.2 366.4,333.8 372.4,334.5 379.3,333.8 387.9,332.4 395.6,333.8 399.0,334.5 402.4,337.6 405.0,341.0 407.6,347.5 410.1,347.5 415.3,349.9 420.4,352.1 427.3,353.3 432.4,354.7 437.6,357.8 441.0,354.4 445.3,356.8 450.4,359.5 454.7,358.1 458.1,353.3 463.3,351.3 466.7,347.0 468.4,347.9 472.7,342.7 480.4,342.4 483.9,340.1 488.1,338.9 489.9,334.1 492.4,325.2 495.0,334.1 497.6,341.9 500.0,344.8 503.1,341.7 507.2,336.6 509.2,337.6 512.3,336.8 514.3,337.6 516.9,334.3 517.9,335.6 519.4,341.7 520.5,340.7 521.5,330.5 522.5,323.3 523.5,325.3 524.5,330.5 526.1,339.7 527.1,341.7 528.1,334.5 529.7,332.5 530.0,337.7 531.7,342.0 533.4,339.4 536.0,347.1 540.3,340.3 543.7,343.7 547.1,345.4 551.4,344.9 555.7,342.0 559.1,344.2 562.6,346.3 566.9,345.4 571.1,344.9 574.6,345.4 578.9,346.3 583.1,343.2 586.6,341.5 591.7,341.5 595.1,342.0 598.6,341.1 602.0,342.0 605.4,340.3 608.9,345.4 612.3,342.9 617.4,340.3 620.9,339.4 626.0,341.1 629.4,339.8 632.9,339.4 638.0,340.8 643.1,341.5 648.3,341.5 653.4,341.5 656.0,340.1 660.3,338.9 665.4,334.6 668.9,332.9 673.1,332.0 677.4,332.9 680.9,335.4 685.1,338.9 688.6,335.4 692.0,337.1 694.6,338.9 699.7,335.4 703.1,330.3 708.3,326.9 711.7,323.4 715.1,319.1 718.6,320.0 721.1,321.7 725.4,326.0 728.9,320.9 731.4,316.6 734.9,313.1 737.4,308.9 740.9,313.1 744.3,311.4 746.0,304.6 747.7,301.1 749.4,304.6" fill="none" stroke="#cc0000" stroke-width="1"/><polyline points="50.9,397.5 56.9,398.0 65.4,400.6 73.1,400.6 79.1,403.5 83.4,402.8 89.4,404.5 98.0,405.7 104.9,407.4 115.1,407.4 120.3,408.6 130.6,408.6 156.3,408.6 166.6,410.5 173.4,410.0 180.3,408.3 187.1,407.4 194.9,404.3 200.9,404.0 206.0,403.1 210.3,401.4 214.6,404.5 219.7,404.0 228.3,405.2 233.4,404.9 238.6,406.2 243.7,408.3 248.9,409.5 258.3,409.5 263.4,412.1 266.9,410.3 272.9,413.4 276.3,420.3 276.3,420.0 280.6,421.7 284.0,426.9 285.0,430.6 287.6,440.0 290.1,448.6 295.3,453.4 298.7,448.6 302.1,443.4 305.6,437.4 310.7,426.3 315.0,423.7 318.4,421.1 321.9,419.8 326.1,421.5 328.7,421.1 331.3,419.8 334.7,421.5 339.9,421.1 343.3,418.6 346.7,415.7 351.0,416.0 355.3,414.6 360.4,415.1 363.9,416.3 369.0,414.6 374.1,415.1 378.4,415.1 381.0,413.4 387.9,413.4 389.6,414.3 393.0,417.7 398.1,421.1 402.4,425.4 405.9,429.7 410.1,435.2 413.6,431.4 417.9,429.7 422.1,431.1 425.6,431.8 429.0,434.5 434.1,433.5 438.4,433.5 441.0,428.9 445.3,431.1 450.4,430.6 454.7,428.9 458.1,424.6 460.7,424.9 465.0,421.1 468.4,421.5 473.6,419.8 480.0,418.9 484.1,418.2 488.2,418.9 489.5,420.2 493.6,409.3 497.7,420.2 501.1,423.6 504.5,420.9 508.6,417.5 512.7,418.2 517.5,415.4 519.5,420.9 520.9,424.3 523.6,406.6 525.7,411.4 527.0,420.9 529.1,411.4 531.1,415.4 532.5,422.3 533.9,417.5 535.9,422.3 537.3,426.4 540.0,421.6 542.7,420.9 545.4,423.6 549.5,422.3 553.6,422.9 556.3,421.6 560.0,422.3 564.3,423.4 569.4,422.6 574.6,422.6 579.7,424.3 583.1,420.9 588.3,419.1 591.7,418.3 595.1,419.1 598.6,418.3 602.0,419.7 605.4,418.3 608.9,422.2 612.3,419.7 617.4,419.1 622.6,419.7 629.4,419.1 634.6,420.3 639.7,420.9 646.6,421.4 651.7,421.4 656.9,419.1 660.3,418.3 663.7,420.0 667.1,416.9 669.7,414.0 674.0,413.5 678.3,414.0 680.9,414.0 683.4,416.6 686.0,418.3 688.6,414.5 692.0,416.2 696.3,418.3 699.7,415.2 703.1,412.3 708.3,408.0 711.7,407.1 715.1,404.6 719.4,407.7 722.0,404.9 725.4,403.7 728.9,399.4 732.3,392.6 734.9,385.7 738.3,385.7 742.6,391.2 745.1,390.9 747.7,385.7 749.8,380.2" fill="none" stroke="#008000" stroke-width="1"/><polyline points="50.9,441.4 55.1,441.4 62.0,443.1 69.7,443.5 74.0,444.9 81.7,444.5 86.0,445.7 92.9,447.1 98.9,448.3 113.4,448.6 118.6,449.5 123.7,448.3 128.9,449.5 156.3,449.5 159.7,450.5 175.1,450.0 185.4,448.6 192.3,448.3 199.1,446.6 207.7,446.1 211.1,445.7 214.6,447.4 218.9,446.9 230.0,447.4 235.1,448.3 242.0,450.0 248.9,451.2 254.0,450.5 260.9,451.7 263.4,453.4 266.9,451.7 270.3,453.4 273.7,453.4 276.3,458.1 279.7,458.6 283.1,461.1 285.0,465.7 287.6,471.7 291.0,476.0 294.4,477.4 297.9,475.1 302.1,470.9 306.4,465.7 310.7,460.6 315.0,459.2 319.3,458.5 323.6,458.0 326.1,457.5 328.7,459.2 331.3,458.0 334.7,459.2 338.1,458.9 341.6,458.0 345.9,456.3 351.0,455.4 355.3,454.9 360.4,454.1 364.7,455.4 369.0,454.1 373.3,454.6 378.4,453.4 381.0,452.5 387.9,452.9 393.0,455.4 398.1,458.9 403.3,461.4 405.9,463.1 411.0,467.1 415.3,464.9 417.9,464.0 422.1,465.7 425.6,466.6 429.9,469.5 434.1,468.8 437.6,468.3 441.0,464.3 445.3,466.2 448.7,464.0 453.9,463.1 458.1,459.7 461.6,460.2 465.9,458.3 470.1,459.2 473.6,458.3 480.0,457.4 484.1,457.0 488.2,457.7 493.0,452.3 497.0,459.8 501.1,461.8 505.2,458.4 510.0,458.0 514.1,457.7 517.5,456.3 520.2,462.5 523.4,451.6 525.7,456.3 527.0,459.8 529.1,453.6 531.1,459.1 533.2,457.7 535.2,464.5 537.3,461.8 540.0,460.4 542.7,462.5 546.8,461.5 550.9,462.5 560.0,461.5 571.1,462.2 574.6,462.9 578.9,464.3 582.3,461.2 586.6,460.5 595.1,460.5 602.0,461.7 605.4,460.9 609.7,464.3 614.0,461.7 619.1,461.7 626.0,462.9 631.1,461.7 639.7,462.9 650.0,463.4 656.9,462.2 661.1,463.4 663.7,460.9 667.1,458.8 669.7,457.1 674.0,457.8 677.4,457.1 680.9,458.3 684.3,460.5 687.7,456.6 691.1,458.3 694.6,459.5 699.7,455.4 703.1,453.1 708.3,450.9 711.7,450.2 715.1,448.5 718.6,450.2 720.3,449.7 723.7,448.0 728.9,441.1 734.0,433.4 737.4,431.7 740.9,433.4 743.4,432.1 747.7,430.0 749.8,424.0" fill="none" stroke="#cc0000" stroke-width="1"/><polyline points="50.9,484.6 55.1,484.8 60.3,486.3 63.7,485.7 67.1,486.5 75.7,486.9 79.1,486.3 86.0,486.9 91.1,488.6 98.0,489.1 101.4,489.4 114.3,489.4 118.6,490.3 123.7,489.4 132.3,489.4 137.4,490.3 144.3,490.3 156.3,490.3 159.7,491.1 163.1,490.3 176.9,490.3 183.7,489.4 187.1,489.1 188.9,488.6 192.3,489.4 195.7,488.6 204.3,488.1 207.7,487.7 212.9,488.6 219.7,488.6 223.1,489.4 230.0,489.1 238.6,489.4 245.4,491.1 255.7,491.1 260.9,492.0 266.0,491.1 269.4,493.2 272.9,493.4 277.1,497.1 279.7,496.3 282.3,498.0 284.9,503.1 285.0,503.4 288.4,506.0 293.6,508.2 297.0,506.9 302.1,503.1 307.3,500.0 310.7,499.1 318.4,496.2 322.7,495.7 327.0,497.4 331.3,496.9 336.4,497.4 341.6,496.2 345.0,494.5 350.1,494.0 355.3,494.0 358.7,493.5 363.9,495.2 367.3,493.5 374.1,494.0 381.0,492.6 386.1,493.1 391.3,494.9 396.4,499.1 399.9,500.0 405.0,502.1 411.9,501.7 417.0,501.4 422.1,502.6 429.0,504.3 434.1,503.1 437.6,503.1 440.1,500.9 443.6,502.6 447.9,501.7 453.0,500.3 458.1,498.3 465.0,497.4 470.1,498.3 475.3,497.1 480.0,496.2 485.5,497.0 488.2,500.0 492.3,494.3 496.4,498.6 500.4,501.6 503.9,497.9 507.3,497.0 512.7,497.9 516.8,497.2 519.5,501.3 522.3,490.4 525.0,502.7 527.0,494.5 528.4,493.2 529.8,502.0 531.8,498.6 533.9,504.1 535.9,500.0 537.9,502.7 540.7,499.3 544.1,500.7 548.2,500.7 552.3,500.0 560.0,500.7 560.9,501.7 571.1,501.7 573.7,502.9 578.0,503.7 581.4,501.1 584.9,499.4 591.7,499.1 595.1,499.9 598.6,500.6 602.0,499.9 605.4,500.6 608.9,503.7 612.3,502.3 619.1,501.7 626.0,503.4 629.4,502.0 636.3,503.7 643.1,504.1 650.0,504.6 656.9,502.9 660.3,505.4 663.7,501.1 667.1,500.3 668.9,497.7 672.3,499.4 676.6,498.6 680.0,501.1 684.3,502.0 687.7,497.7 690.3,499.4 692.9,500.3 695.4,501.1 699.7,496.0 703.1,494.3 708.3,493.1 711.7,491.7 714.8,490.3 717.7,493.1 720.3,492.6 723.7,493.1 727.1,486.6 730.6,480.6 734.0,478.0 737.4,477.1 740.9,480.1 744.3,479.4 746.9,477.1 749.8,470.3" fill="none" stroke="#0000ff" stroke-width="1"/><polyline points="50.9,529.2 55.1,529.4 60.3,530.6 63.7,529.7 77.4,529.2 80.9,528.5 84.3,529.2 91.1,530.2 103.1,531.1 116.9,531.4 122.0,530.6 137.4,530.9 152.9,530.6 192.3,530.6 195.7,529.4 199.1,530.1 204.3,529.2 235.1,529.7 238.6,530.6 247.1,531.1 262.6,531.4 266.0,531.8 272.9,532.3 276.3,533.1 279.7,534.5 283.1,535.2 285.0,536.3 291.9,538.0 302.1,538.0 310.7,535.8 321.0,534.6 329.6,535.4 338.1,534.6 350.1,533.7 353.6,533.4 362.1,533.4 367.3,533.7 374.1,533.4 381.0,533.4 387.9,533.7 391.3,535.4 395.6,538.0 411.9,537.7 439.3,537.1 441.9,536.3 446.1,537.1 453.0,537.1 456.4,536.3 475.3,536.3 480.0,535.3 486.8,535.3 489.5,537.5 493.0,534.3 495.0,534.7 498.4,537.0 501.1,538.0 505.9,537.7 510.0,537.5 515.4,537.5 518.9,537.0 520.9,540.4 523.6,534.3 525.7,537.0 527.0,538.4 529.1,535.3 531.1,537.0 533.2,539.8 535.2,537.5 537.3,540.2 540.0,538.4 542.7,539.4 548.2,539.8 553.6,540.2 556.3,539.1 560.0,539.8 560.9,540.2 578.0,540.6 581.4,539.4 586.6,538.3 595.1,538.3 602.0,539.7 607.1,541.8 612.3,543.1 619.1,543.5 631.1,543.5 639.7,545.2 660.3,545.2 667.1,543.5 670.6,542.3 674.0,543.1 677.4,542.3 684.3,543.5 689.4,541.8 692.9,542.3 698.0,540.1 703.1,538.3 708.3,537.7 711.7,537.1 715.1,536.3 718.6,536.3 723.7,535.4 727.1,532.9 734.0,527.7 740.9,527.4 745.1,526.3 749.8,522.6" fill="none" stroke="#008000" stroke-width="1"/><polyline points="50.9,571.5 58.6,571.5 59.4,572.3 60.3,571.5 88.6,571.5 89.4,572.3 123.7,572.3 125.4,571.5 131.4,571.5 133.1,572.3 156.3,572.3 158.0,571.1 159.7,572.0 160.6,571.5 200.9,571.5 201.7,570.6 202.6,571.5 205.1,570.6 231.7,570.6 232.6,571.5 250.6,571.5 252.3,572.3 276.3,572.3 278.0,573.2 284.0,573.7 285.0,574.9 291.9,575.7 299.6,577.1 307.3,575.7 314.1,574.9 327.9,574.9 333.0,575.2 343.3,574.9 350.1,574.0 360.4,574.5 367.3,574.0 387.9,574.0 393.0,575.2 398.1,576.2 403.3,575.7 441.0,575.7 445.3,576.2 458.1,576.2 465.0,575.7 473.6,575.2 480.0,574.8 484.1,575.2 488.2,575.2 493.6,573.4 497.7,575.2 501.1,577.3 507.3,576.2 515.4,575.9 519.5,575.6 521.6,577.3 523.6,574.5 525.7,575.2 527.0,575.9 529.1,574.5 531.1,575.9 534.5,576.6 540.0,577.0 545.4,577.3 549.5,578.4 555.0,577.9 560.0,577.9 569.4,578.5 574.6,578.0 581.4,577.1 591.7,577.1 598.6,578.5 603.7,580.6 610.6,582.3 619.1,582.6 626.0,583.7 632.9,584.3 643.1,584.3 646.6,585.4 667.1,585.4 674.0,584.3 680.9,584.0 684.3,584.9 691.1,582.3 698.0,581.4 704.9,579.2 711.7,578.0 720.3,576.6 725.4,574.1 730.6,572.3 737.4,569.4 742.6,568.9 749.8,566.3" fill="none" stroke="#cc0000" stroke-width="1"/><polyline points="50.9,612.3 53.4,613.5 62.0,613.5 63.7,612.6 70.6,612.3 72.3,611.4 78.3,610.6 89.4,610.6 91.1,611.4 98.0,611.4 98.9,612.3 110.9,612.3 112.6,611.4 115.1,612.6 120.3,610.6 134.9,610.6 135.7,611.4 140.9,611.4 142.6,610.6 156.3,610.6 158.0,608.9 170.0,608.9 171.7,609.7 176.9,609.7 178.6,610.6 182.0,609.7 185.4,609.7 187.1,610.6 192.3,609.7 197.4,608.9 200.9,608.9 202.6,609.7 206.0,608.9 212.9,608.9 214.6,609.7 221.4,608.9 244.6,608.9 249.7,610.6 254.0,610.6 255.7,609.7 258.3,610.6 260.9,609.7 264.3,610.6 266.9,609.7 269.4,610.6 272.9,609.7 276.3,610.6 279.7,611.4 283.1,610.6 285.0,609.1 289.3,608.8 295.3,611.7 301.3,614.3 310.7,615.1 314.1,613.4 321.0,612.6 326.1,613.4 329.6,616.0 333.0,613.9 338.1,614.3 345.0,614.3 348.4,613.4 360.4,614.3 364.7,616.0 367.3,614.3 377.6,613.4 381.0,613.9 387.9,615.1 393.9,622.5 398.1,619.1 403.3,616.0 408.4,616.0 415.3,615.1 422.1,614.3 429.0,612.6 434.1,613.9 438.4,616.0 441.9,613.4 446.1,615.1 453.0,616.9 456.4,617.4 463.3,616.9 468.4,616.0 471.9,616.3 475.3,614.8 480.0,614.3 486.8,614.8 488.2,614.8 490.2,620.2 493.0,610.0 495.0,607.3 497.7,610.7 501.1,614.8 503.9,618.2 507.3,616.8 512.7,617.1 516.1,617.1 518.9,614.1 520.9,622.9 522.9,615.4 524.3,608.6 526.4,614.1 527.7,615.4 529.1,610.0 530.4,608.6 531.8,615.4 533.2,611.3 534.5,614.8 535.9,612.7 538.6,617.5 541.3,614.1 543.4,613.4 545.4,615.2 548.2,615.4 553.6,615.2 560.0,614.8 561.7,616.2 566.0,615.2 569.4,616.2 576.3,616.6 579.7,618.3 583.1,615.2 591.7,614.9 595.1,615.2 602.0,616.6 604.6,618.3 605.4,615.7 610.6,620.9 614.0,622.6 619.1,623.4 626.0,623.1 629.4,623.8 632.9,626.0 639.7,627.7 643.1,628.9 648.3,629.4 651.7,631.1 655.1,629.9 657.7,631.7 660.3,629.9 662.9,632.0 665.4,631.7 667.1,632.9 669.7,629.4 675.7,629.4 679.1,627.7 682.6,628.2 685.1,629.4 688.6,626.9 696.3,627.2 699.7,626.0 704.9,624.3 708.3,624.8 710.9,626.5 715.1,623.8 718.6,625.5 723.7,622.6 727.1,620.0 730.6,617.4 735.7,614.0 738.3,613.5 742.6,615.2 746.0,614.9 749.8,610.6" fill="none" stroke="#0000ff" stroke-width="1"/><polyline points="50.9,651.7 72.3,651.7 74.0,650.5 84.3,650.5 86.0,651.7 86.9,650.9 88.6,651.7 126.3,651.7 128.0,650.5 131.4,650.5 132.3,651.7 157.1,651.7 158.9,650.5 174.3,650.5 176.0,651.7 196.6,651.7 197.4,650.5 198.3,651.7 208.6,651.7 210.3,650.5 215.4,650.5 217.1,651.7 219.7,650.5 230.0,650.5 230.9,651.7 252.3,651.7 254.0,652.6 254.9,651.7 260.9,651.7 262.6,652.6 274.6,652.6 276.3,651.7 278.0,652.6 284.9,652.6 285.0,651.7 289.3,652.0 295.3,654.1 302.1,655.1 319.3,654.6 329.6,654.6 334.7,653.4 339.9,654.2 370.7,654.2 375.0,653.4 381.0,654.2 405.0,654.6 408.4,655.4 422.1,654.6 439.3,655.4 446.1,656.3 463.3,656.3 470.1,655.4 490.7,655.4 494.1,652.0 499.3,654.6 502.7,656.3 507.9,655.4 516.4,655.4 519.9,653.7 523.3,654.6 525.0,652.0 530.0,650.9 533.4,653.4 536.9,654.3 547.1,655.1 560.9,656.0 571.1,657.4 584.9,658.1 591.7,659.1 598.6,659.8 605.4,661.5 612.3,663.7 619.1,665.4 626.0,666.6 632.9,668.0 636.3,667.5 643.1,668.3 662.0,668.9 667.1,668.0 670.6,667.7 675.7,666.3 680.9,664.9 686.0,664.2 691.1,662.9 698.0,662.0 701.4,661.1 708.3,660.3 713.4,659.4 720.3,658.1 723.7,655.7 732.3,655.1 735.7,653.4 739.1,651.7 746.0,650.9 749.4,650.0" fill="none" stroke="#008000" stroke-width="1"/><polyline points="50.9,695.4 61.1,695.4 62.9,694.6 72.3,694.6 74.0,693.4 80.9,693.4 82.6,692.5 96.3,692.5 98.0,693.4 115.1,693.4 116.9,692.5 123.7,692.5 125.4,691.7 154.6,691.7 156.3,690.8 206.0,690.8 207.7,689.8 215.4,689.8 217.1,690.8 225.7,690.8 227.4,689.8 243.7,689.8 245.4,690.8 285.0,690.5 289.3,690.5 291.0,691.4 296.1,691.4 297.0,692.2 303.0,692.2 303.9,693.4 314.1,693.4 315.9,692.2 345.0,692.2 346.7,693.4 390.4,693.4 391.3,694.6 411.9,694.6 413.6,695.5 419.6,695.5 420.4,694.6 434.1,694.6 435.9,695.5 475.3,695.5 476.1,694.6 489.9,694.6 490.7,695.5 494.1,693.8 498.4,693.8 500.1,695.1 502.7,695.5 505.3,696.3 508.7,696.3 510.4,695.5 523.3,695.5 525.0,694.6 530.0,693.1 543.7,693.7 544.6,694.5 565.1,694.5 566.0,695.4 591.7,695.7 598.6,696.6 605.4,697.8 612.3,700.9 619.1,703.4 622.6,704.3 629.4,705.7 634.6,707.4 643.1,707.7 644.9,708.6 675.7,708.6 677.4,707.4 687.7,706.9 694.6,705.7 701.4,704.3 708.3,703.4 715.1,702.6 722.0,701.2 728.9,700.0 735.7,698.8 742.6,696.6 748.6,695.4" fill="none" stroke="#cc0000" stroke-width="1"/><polyline points="50.9,736.3 61.1,736.3 62.0,735.5 69.7,735.5 70.6,734.6 77.4,734.6 78.3,733.4 101.4,733.4 102.3,734.6 108.3,734.6 109.1,733.4 122.9,733.4 123.7,732.6 132.3,732.6 134.0,731.7 135.7,732.6 137.4,731.7 160.6,731.7 161.4,730.5 187.1,730.5 188.0,731.5 197.4,731.5 198.3,730.5 253.1,730.5 254.0,731.5 276.3,731.5 278.0,730.5 279.7,731.5 284.9,731.5 285.0,730.3 291.9,730.3 293.6,731.5 297.9,731.5 299.6,732.3 303.9,732.3 304.7,733.4 315.0,733.4 315.9,732.3 351.9,732.3 352.7,733.4 393.0,733.4 394.7,734.6 397.3,733.4 411.9,733.4 413.6,734.6 420.4,734.6 422.1,733.4 435.0,733.4 436.7,734.6 453.0,734.6 454.7,735.4 459.0,735.4 460.7,734.6 463.3,735.4 465.9,734.6 473.6,734.6 474.4,733.4 492.4,733.4 495.0,731.5 498.4,731.5 501.0,732.5 504.4,734.6 516.4,734.6 517.3,733.4 525.0,733.4 530.0,730.9 532.6,730.0 536.9,730.9 545.4,732.1 554.0,732.6 555.7,733.4 560.0,732.6 560.9,733.4 574.6,733.8 588.3,734.8 598.6,736.0 607.1,738.6 614.0,741.7 620.9,744.6 627.7,745.4 632.9,747.1 643.1,748.0 656.9,748.5 663.7,749.7 677.4,749.7 679.1,748.5 692.9,748.5 701.4,747.1 711.7,745.8 718.6,744.6 727.1,742.9 735.7,742.0 740.5,740.3" fill="none" stroke="#0000ff" stroke-width="1"/><polyline points="50.9,775.4 58.6,775.4 59.4,774.6 77.4,774.6 78.3,773.7 85.1,773.7 86.0,774.6 102.3,774.6 103.1,773.7 119.4,773.7 120.3,772.5 174.3,772.5 175.1,771.5 267.7,771.5 269.4,772.5 284.9,772.5 285.0,773.5 298.7,773.5 300.4,772.3 333.0,772.3 334.7,773.5 339.0,773.5 339.9,772.3 350.1,772.3 351.9,771.4 354.4,771.4 355.3,772.3 380.1,772.3 381.0,771.4 389.6,771.4 391.3,772.3 396.4,772.3 398.1,773.5 401.6,773.5 403.3,772.3 404.1,773.5 439.3,773.5 441.0,772.3 441.9,773.5 447.0,773.5 448.7,772.3 470.1,772.3 471.9,773.5 487.3,773.5 489.0,773.1 490.7,774.0 494.1,776.2 497.6,776.2 501.9,774.0 504.4,773.5 514.7,773.5 515.6,772.3 517.3,773.5 520.7,773.5 522.4,771.4 525.0,773.5 530.0,774.6 536.9,774.2 543.7,773.7 560.9,773.7 564.3,774.2 586.6,774.6 591.7,776.3 598.6,778.3 607.1,781.4 615.7,782.8 626.0,784.5 638.0,786.6 650.0,787.6 667.1,787.6 670.6,786.9 686.0,787.4 698.0,785.7 708.3,783.5 715.1,784.0 725.4,782.3 732.3,781.1 739.1,779.7 745.7,778.0" fill="none" stroke="#008000" stroke-width="1"/></g><path d="M0.5 0V880 M0 0.5H860 M859.5 0V880 M0 879.5H860" stroke="#000" fill="none"/></svg><svg width="540" height="880" viewBox="0 0 540 880" style="position:absolute;left:860px;top:0"><rect width="540" height="880" fill="#37526f"/><path fill="#527ca7" d="M270.0,93.8 L265.0,95.0 L258.8,98.8 L252.5,102.5 L247.5,105.0 L241.3,108.1 L236.3,110.0 L235.0,113.8 L236.3,120.0 L240.0,123.8 L245.0,124.4 L252.5,121.9 L260.0,120.6 L268.8,119.4 L269.4,123.1 L260.0,125.6 L252.5,128.1 L246.9,130.0 L245.6,135.0 L241.3,135.0 L238.1,137.5 L238.8,143.8 L242.5,151.3 L247.5,156.3 L251.3,161.3 L255.0,167.5 L260.0,173.8 L263.8,178.8 L266.3,181.3 L269.4,180.0 L270.0,175.0 L270.6,167.5 L271.9,160.0 L273.8,152.5 L276.3,142.5 L280.0,138.8 L282.5,137.5 L283.8,132.5 L284.4,123.8 L285.0,112.5 L287.5,111.3 L290.0,108.8 L290.6,102.5 L292.5,96.3 L295.0,87.5 L297.5,82.5 L303.2,80.8 L311.3,78.7 L315.4,76.7 L315.4,72.6 L311.3,67.5 L307.3,63.4 L308.8,59.3 L307.3,55.7 L302.1,53.2 L300.1,56.2 L297.0,51.1 L290.9,50.1 L288.3,45.0 L288.9,34.8 L286.8,27.6 L283.7,26.1 L277.1,37.3 L278.6,26.6 L279.7,20.4 L277.6,13.8 L273.5,9.7 L267.9,8.2 L264.3,0.0 L261.9,0.0 L261.3,1.3 L260.0,6.3 L258.1,15.0 L257.5,25.0 L258.1,35.0 L258.8,43.1 L257.5,47.5 L255.0,42.5 L252.5,33.8 L250.6,27.5 L248.8,21.9 L246.9,17.5 L244.4,16.3 L243.1,18.8 L240.6,25.0 L238.8,32.5 L236.9,40.0 L233.1,31.9 L230.0,28.5 L224.4,27.5 L225.6,25.0 L230.6,21.9 L235.0,18.8 L237.5,15.6 L236.3,12.5 L232.5,11.9 L227.5,13.8 L222.5,16.3 L216.3,15.6 L208.8,15.0 L203.1,16.3 L202.5,25.0 L203.8,37.5 L205.6,50.0 L209.4,60.0 L212.5,65.0 L214.4,71.3 L216.3,78.8 L218.8,80.0 L222.5,87.5 L226.3,96.3 L230.0,101.3 L236.3,101.3 L241.3,98.8 L244.4,92.5 L245.0,86.3 L244.0,77.0 L246.0,75.5 L248.0,80.0 L248.0,90.0 L252.0,93.0 L260.0,91.5 L266.0,91.5Z M283.7,0.0 L287.8,2.0 L283.7,7.2 L282.7,10.2 L284.8,15.3 L288.9,18.9 L296.0,19.4 L302.1,17.4 L308.3,18.9 L306.2,24.0 L300.1,24.5 L298.1,27.1 L301.1,32.2 L308.8,36.3 L311.3,38.9 L321.6,39.4 L329.8,38.3 L330.3,42.9 L331.8,47.5 L342.0,50.1 L346.1,47.0 L351.2,41.9 L355.3,41.4 L360.4,37.8 L363.5,28.6 L366.6,22.5 L376.8,9.2 L377.3,0.0Z M303.8,87.5 L308.8,86.3 L317.5,83.8 L321.9,84.4 L323.8,92.5 L325.0,98.8 L330.0,101.9 L334.4,101.3 L337.5,106.3 L335.0,110.0 L334.4,113.8 L340.0,118.8 L346.3,119.4 L352.0,124.0 L350.0,125.5 L345.0,130.0 L342.5,133.8 L337.5,138.8 L335.0,143.8 L332.5,145.0 L330.0,149.4 L327.5,148.1 L327.5,141.3 L326.3,136.9 L320.0,138.1 L312.5,141.3 L310.6,138.8 L311.3,133.8 L313.8,128.8 L315.0,122.5 L317.5,117.5 L315.0,112.5 L311.3,107.5 L308.8,102.5 L307.5,96.3 L305.0,91.3Z M201.9,68.1 L205.0,66.3 L207.5,72.5 L210.0,80.0 L213.8,87.5 L217.5,95.0 L218.1,101.3 L216.9,102.0 L215.0,99.0 L211.3,92.5 L207.5,85.0 L203.8,77.5 L201.9,72.5Z M369.0,71.0 L371.0,70.5 L373.0,75.0 L375.0,78.5 L373.5,80.0 L370.5,77.0Z M385.0,68.0 L390.0,65.0 L396.0,66.0 L402.0,65.5 L403.5,67.0 L398.0,68.5 L391.0,69.5 L386.5,70.0Z M70.5,880.0 L71.6,873.2 L72.7,868.6 L81.8,866.8 L90.9,870.9 L95.5,866.8 L102.3,861.8 L105.7,855.0 L108.0,848.2 L113.6,845.5 L122.7,843.2 L129.5,839.1 L133.0,834.5 L136.4,825.5 L138.6,816.4 L142.0,810.7 L150.0,807.3 L156.3,802.5 L162.5,801.3 L168.8,801.9 L175.0,801.3 L180.0,800.0 L177.0,790.0 L175.0,775.0 L176.0,760.0 L178.8,751.3 L178.4,745.9 L181.3,740.0 L186.3,736.3 L192.5,730.0 L198.8,726.3 L201.3,725.0 L201.0,730.0 L200.0,737.5 L202.0,745.0 L200.0,752.5 L197.5,757.5 L195.0,762.5 L193.0,767.0 L191.3,775.0 L192.5,780.0 L196.0,783.0 L198.2,784.1 L220.0,772.0 L224.1,758.2 L226.3,752.5 L225.0,747.5 L221.3,740.0 L217.5,732.5 L213.8,723.8 L211.3,715.0 L208.8,705.0 L207.5,696.3 L203.8,692.5 L201.9,685.6 L201.3,691.3 L197.5,696.3 L192.5,700.0 L188.8,705.0 L183.8,710.0 L178.8,713.8 L172.5,717.5 L167.5,718.1 L161.3,716.3 L155.0,712.5 L150.0,707.5 L148.8,702.5 L149.0,697.5 L146.3,692.5 L142.5,687.5 L140.0,680.0 L141.3,675.0 L143.8,670.0 L145.0,665.0 L143.8,660.0 L142.5,655.0 L142.5,648.8 L143.8,642.5 L142.5,637.5 L145.0,631.3 L147.5,628.8 L151.3,626.3 L155.0,622.5 L158.8,620.0 L162.5,616.3 L166.3,613.8 L171.3,611.3 L177.5,607.5 L175.0,602.5 L178.8,600.0 L186.2,592.6 L193.6,585.2 L199.5,577.8 L205.5,571.9 L211.4,567.5 L215.8,561.6 L218.7,555.7 L220.2,549.8 L221.7,543.9 L223.2,537.9 L226.1,535.0 L232.0,532.0 L235.0,529.1 L235.0,518.7 L237.9,512.8 L242.4,506.9 L245.3,502.5 L243.9,499.5 L246.8,495.1 L246.8,489.2 L249.8,484.8 L246.8,481.8 L241.9,480.1 L250.4,475.9 L256.4,472.3 L261.3,468.6 L266.1,465.0 L271.0,461.4 L274.6,456.5 L278.3,452.9 L280.7,450.4 L283.1,445.6 L285.6,443.1 L289.2,441.9 L292.9,438.3 L297.7,435.3 L298.9,439.5 L300.1,434.6 L303.8,432.2 L306.2,429.8 L309.9,428.6 L314.7,427.4 L319.6,424.9 L324.4,421.3 L329.3,418.9 L334.1,417.6 L337.8,415.2 L341.4,412.8 L345.1,409.1 L347.5,404.3 L351.1,399.4 L354.8,395.8 L359.6,390.9 L364.0,392.0 L367.4,393.8 L371.7,391.6 L380.4,390.5 L386.9,392.7 L389.0,398.1 L386.9,404.6 L391.2,400.2 L397.7,400.2 L404.1,404.6 L410.6,408.9 L417.1,415.4 L412.8,419.7 L404.1,421.8 L395.5,421.8 L399.8,426.2 L404.1,430.5 L412.8,432.6 L421.4,430.5 L427.9,432.6 L434.4,434.8 L438.7,437.0 L443.0,443.4 L441.9,452.1 L447.3,447.8 L456.0,447.8 L466.8,452.1 L477.6,458.6 L486.2,465.0 L492.7,470.0 L498.6,474.4 L504.5,478.9 L509.0,482.6 L513.4,484.8 L517.8,489.2 L522.3,492.2 L523.7,499.5 L525.2,505.5 L526.0,512.8 L523.7,518.7 L519.3,524.7 L513.4,530.6 L506.0,534.3 L498.6,536.5 L491.2,536.5 L483.9,533.5 L477.9,530.6 L470.6,529.1 L464.7,528.3 L458.7,524.7 L455.8,523.2 L452.8,521.7 L449.9,520.2 L445.5,518.7 L441.0,517.3 L438.1,515.8 L436.6,511.4 L433.6,509.1 L427.7,508.1 L432.2,511.4 L434.4,514.3 L438.1,518.7 L441.0,521.7 L442.5,526.1 L445.5,529.1 L449.9,532.0 L454.3,536.5 L457.3,542.4 L455.8,549.8 L454.3,555.7 L457.3,561.6 L458.7,571.9 L461.0,579.3 L467.6,582.3 L472.0,586.7 L476.5,589.6 L483.9,591.9 L489.8,588.2 L490.5,582.3 L486.8,579.3 L482.4,577.8 L479.4,573.4 L475.7,567.5 L477.9,563.1 L480.9,560.1 L485.3,561.6 L489.8,566.0 L494.2,567.5 L500.1,569.0 L507.5,573.4 L513.4,569.0 L515.6,566.0 L513.4,561.6 L510.4,555.7 L509.0,549.8 L513.4,545.3 L519.3,539.4 L525.2,536.5 L531.1,530.6 L535.6,526.1 L540.0,527.6 L540.0,880.0Z M242.5,463.8 L247.9,457.7 L251.6,458.9 L252.8,465.0 L249.1,467.4 L244.3,466.2Z M254.0,452.9 L258.9,447.4 L260.7,449.8 L257.6,457.7 L256.4,465.0 L260.1,461.4 L263.7,460.1 L264.9,465.0 L262.5,469.9 L257.6,472.3 L254.0,468.6 L252.8,462.6Z M268.6,454.1 L271.0,448.0 L274.6,440.7 L279.5,439.5 L280.7,443.1 L278.3,450.4 L273.4,454.1Z M280.7,438.3 L284.4,433.4 L288.0,432.2 L290.4,435.9 L288.0,439.5 L283.1,440.7Z M305.0,421.3 L307.4,419.5 L309.9,421.3 L308.6,423.7 L305.6,423.7Z M323.2,405.5 L326.9,404.3 L330.5,407.9 L326.9,409.8 L323.8,408.5Z M331.7,412.8 L336.6,410.4 L340.2,411.6 L339.0,415.2 L334.1,416.4Z M340.2,404.3 L342.6,403.1 L343.9,406.7 L341.4,409.1Z M241.8,462.0 L246.0,458.0 L252.0,457.7 L254.0,462.0 L250.0,467.3 L244.0,467.0Z M229.5,480.0 L234.0,477.0 L239.0,477.5 L237.0,482.0 L232.0,483.6Z M288.9,269.9 L290.6,268.7 L294.0,272.7 L291.7,275.6 L289.7,272.7Z M0.0,394.5 L1.4,392.3 L3.2,389.5 L5.9,388.6 L6.8,390.0 L6.4,392.7 L3.6,395.0 L0.0,396.4Z M14.8,628.4 L18.2,627.8 L21.6,627.3 L22.7,630.1 L20.5,632.4 L19.3,635.2 L17.0,633.0 L12.5,633.0 L13.1,631.3Z M17.8,637.2 L19.5,637.5 L20.8,640.0 L19.0,640.0Z M17.3,643.0 L18.8,643.2 L20.1,647.5 L18.8,647.9Z M81.3,660.8 L81.8,662.5 L79.5,667.0 L79.0,670.5 L78.4,675.0 L77.3,680.7 L76.1,679.5 L75.6,673.9 L73.3,672.7 L74.4,668.2 L76.1,665.3 L78.4,664.8 L80.1,661.9Z M55.7,695.9 L60.2,692.5 L63.6,693.6 L61.4,700.5 L56.8,702.7Z M55.4,701.0 L60.2,700.0 L61.2,703.9 L56.4,704.3Z M38.0,708.7 L44.8,706.8 L52.5,705.8 L57.3,706.8 L56.4,711.6 L52.5,717.4 L48.6,723.2 L49.6,726.1 L58.3,725.1 L68.0,725.1 L71.8,728.0 L69.9,734.8 L67.0,740.6 L64.1,746.4 L60.2,750.2 L57.3,754.1 L55.4,757.0 L62.2,758.0 L68.0,761.8 L71.8,766.7 L75.7,775.3 L77.6,781.1 L83.4,786.9 L87.3,792.7 L89.2,798.5 L91.1,802.4 L93.1,806.3 L93.1,812.1 L98.9,813.0 L106.6,815.9 L108.5,821.7 L106.6,829.4 L102.7,835.2 L100.8,839.1 L104.7,841.0 L102.7,844.9 L95.0,846.8 L87.3,848.8 L79.6,849.7 L71.8,850.7 L64.1,851.7 L56.4,852.6 L48.6,854.6 L42.8,856.5 L37.0,859.4 L31.3,861.3 L35.1,857.5 L40.9,852.6 L46.7,848.8 L52.5,843.9 L58.3,839.1 L62.2,837.2 L58.3,836.2 L48.6,836.2 L40.9,835.2 L35.1,833.3 L37.0,829.4 L42.8,825.6 L46.7,821.7 L48.6,815.9 L44.8,813.0 L41.9,811.1 L43.8,807.2 L50.6,806.3 L56.4,806.3 L60.2,804.3 L60.2,796.6 L58.3,790.8 L54.4,785.0 L53.5,781.1 L56.4,777.3 L50.6,777.3 L44.8,779.2 L39.0,781.1 L36.1,780.2 L37.0,773.4 L39.0,767.6 L38.0,763.8 L37.0,759.9 L34.1,756.0 L31.3,752.2 L28.4,748.3 L31.3,742.5 L33.2,736.7 L32.2,729.0 L34.1,721.3 L37.0,715.5Z M0.0,780.0 L6.8,775.5 L13.6,770.9 L18.2,772.0 L22.7,775.5 L29.5,780.0 L31.8,784.5 L27.3,789.1 L25.0,798.2 L25.0,807.3 L25.0,816.4 L22.7,825.5 L13.6,830.0 L4.5,834.5 L0.0,836.8Z M17.7,715.5 L24.5,709.7 L25.5,713.5 L21.6,719.3 L18.7,721.3Z M11.9,725.1 L15.8,726.1 L14.8,729.0 L11.0,728.0Z M19.7,729.0 L24.5,728.0 L26.4,734.8 L21.6,737.7 L19.7,733.8Z M21.6,744.4 L28.4,743.5 L29.3,748.3 L24.5,750.2Z M21.6,759.9 L27.4,758.0 L28.4,763.8 L23.5,764.7Z M29.3,763.8 L34.1,760.9 L36.1,769.6 L31.3,770.5Z M41.9,787.9 L44.8,786.9 L43.8,792.7 L40.9,792.3Z"/><path fill="#37526f" d="M315.0,569.1 L315.4,564.1 L318.2,554.5 L320.9,550.4 L325.0,547.7 L326.3,543.6 L334.5,545.0 L340.0,543.6 L346.8,543.3 L349.5,545.0 L353.6,547.7 L357.0,550.4 L357.7,555.9 L356.3,564.1 L353.6,569.5 L350.0,574.0 L346.8,578.0 L340.0,582.7 L333.2,591.8 L326.4,600.9 L321.8,605.5 L317.3,607.7 L315.0,616.8 L313.9,625.9 L316.1,635.0 L317.3,646.4 L315.0,655.5 L315.0,664.5 L319.5,669.1 L326.4,671.4 L330.9,675.9 L333.2,681.4 L337.7,679.1 L346.8,676.8 L353.6,674.5 L360.5,672.3 L365.0,669.1 L376.4,668.0 L390.0,665.0 L394.5,671.4 L399.1,674.8 L407.0,679.3 L400.0,678.0 L395.7,679.1 L390.0,681.4 L386.6,683.6 L384.3,689.3 L376.4,689.3 L369.5,687.0 L363.9,685.9 L358.2,687.0 L349.1,689.3 L343.4,691.6 L337.7,693.9 L337.7,704.1 L340.0,710.9 L344.5,713.2 L348.0,712.0 L346.8,721.1 L347.4,731.4 L344.5,735.9 L340.0,738.2 L335.5,735.9 L333.2,730.2 L328.6,725.7 L323.0,726.8 L318.4,730.2 L316.1,733.6 L313.9,740.5 L312.2,747.3 L312.2,756.4 L312.7,770.0 L313.6,776.9 L310.4,775.4 L305.7,776.9 L301.0,779.3 L296.3,785.6 L290.9,786.8 L286.8,782.7 L282.7,782.0 L269.1,786.8 L255.4,792.3 L241.8,796.3 L235.0,792.3 L221.3,788.2 L207.7,785.4 L198.2,784.1 L196.0,783.0 L192.5,780.0 L191.3,775.0 L193.0,767.0 L195.0,762.5 L197.5,757.5 L200.0,754.0 L206.0,753.0 L212.0,753.0 L218.0,752.0 L224.0,756.0 L225.0,760.0 L222.0,766.0 L220.0,770.8 L230.2,769.8 L238.4,768.7 L241.5,765.7 L240.4,761.6 L242.5,758.5 L246.6,757.5 L252.7,755.4 L258.9,754.4 L260.9,751.3 L262.4,745.2 L262.9,739.1 L264.0,732.9 L265.0,725.8 L265.5,720.7 L266.5,715.6 L267.0,709.4 L262.9,706.4 L269.1,705.3 L275.2,701.2 L281.3,698.2 L284.4,694.1 L285.4,690.0 L290.0,680.5 L287.7,673.6 L280.9,669.1 L274.1,662.3 L271.8,650.9 L271.8,639.5 L274.1,628.2 L278.6,619.1 L285.5,610.0 L294.5,603.2 L303.6,596.4 L310.5,587.3 L312.7,580.5Z M359.5,398.0 L363.0,399.0 L355.5,421.5 L353.8,421.0Z M372.5,397.0 L376.0,397.5 L372.0,413.5 L370.8,413.0Z M388.0,399.0 L391.5,399.5 L387.5,416.0 L386.5,415.5Z M188.0,602.0 L192.0,598.0 L198.0,595.0 L204.0,591.0 L210.0,587.5 L211.0,589.0 L206.0,593.0 L200.0,597.0 L194.0,601.0 L190.0,603.5Z M262.0,689.0 L270.0,688.5 L280.0,689.0 L286.0,690.0 L286.0,692.0 L278.0,691.5 L270.0,691.0 L262.0,690.5Z M143.0,637.0 L152.0,636.5 L160.0,638.0 L161.0,639.0 L152.0,638.5 L143.0,639.0Z M143.0,651.0 L155.0,650.5 L165.0,651.0 L170.0,652.0 L165.0,652.5 L155.0,652.5 L143.0,652.5Z M154.0,620.0 L162.0,618.5 L170.0,618.0 L164.0,620.5 L154.0,622.0Z"/><path fill="#527ca7" d="M293.6,719.1 L290.6,721.7 L285.4,724.8 L282.4,728.9 L281.3,732.9 L282.4,737.0 L283.4,740.1 L285.4,736.0 L288.5,730.9 L290.6,725.8Z M320.7,709.8 L326.4,707.5 L333.2,706.4 L336.6,707.5 L335.5,710.9 L329.8,713.2 L325.2,715.5 L323.0,720.0 L321.8,715.5Z M323.0,700.7 L328.6,697.3 L332.6,700.7 L329.8,704.1 L325.2,703.0Z M297.0,671.0 L301.0,669.5 L304.0,672.0 L302.0,675.5 L298.0,675.0Z M245.0,771.5 L249.0,771.0 L250.5,774.5 L247.0,776.0Z M205.0,757.5 L210.0,755.0 L216.3,753.8 L221.3,756.3 L225.0,757.5 L223.8,762.5 L221.3,767.5 L217.5,770.0 L212.5,771.3 L207.5,770.0 L205.6,766.3 L206.3,761.3Z M193.8,766.3 L198.8,764.4 L202.5,766.3 L203.1,771.3 L200.0,773.8 L195.0,773.1 L193.1,770.0Z M205.0,775.0 L212.5,773.8 L220.0,775.0 L222.5,777.5 L217.5,780.0 L210.0,780.0 L205.6,778.8Z M339.0,549.0 L343.0,548.5 L344.0,551.0 L340.0,552.0Z"/><path fill="#fff" fill-rule="evenodd" transform="translate(201.96,34.84) scale(1.4286)" d="M12 2C8.13 2 5 5.13 5 9c0 5.25 7 13 7 13s7-7.75 7-13c0-3.87-3.13-7-7-7zM12 6.2a2.8 2.8 0 1 0 0.001 0z"/><path fill="#fff" fill-rule="evenodd" transform="translate(239.96,72.14) scale(1.4286)" d="M12 2C8.13 2 5 5.13 5 9c0 5.25 7 13 7 13s7-7.75 7-13c0-3.87-3.13-7-7-7zM12 6.2a2.8 2.8 0 1 0 0.001 0z"/><path fill="#fff" fill-rule="evenodd" transform="translate(339.76,152.04) scale(1.4286)" d="M12 2C8.13 2 5 5.13 5 9c0 5.25 7 13 7 13s7-7.75 7-13c0-3.87-3.13-7-7-7zM12 6.2a2.8 2.8 0 1 0 0.001 0z"/><path fill="#fff" fill-rule="evenodd" transform="translate(275.76,241.04) scale(1.4286)" d="M12 2C8.13 2 5 5.13 5 9c0 5.25 7 13 7 13s7-7.75 7-13c0-3.87-3.13-7-7-7zM12 6.2a2.8 2.8 0 1 0 0.001 0z"/><path fill="#fff" fill-rule="evenodd" transform="translate(345.76,359.04) scale(1.4286)" d="M12 2C8.13 2 5 5.13 5 9c0 5.25 7 13 7 13s7-7.75 7-13c0-3.87-3.13-7-7-7zM12 6.2a2.8 2.8 0 1 0 0.001 0z"/><path fill="#fff" fill-rule="evenodd" transform="translate(313.76,377.04) scale(1.4286)" d="M12 2C8.13 2 5 5.13 5 9c0 5.25 7 13 7 13s7-7.75 7-13c0-3.87-3.13-7-7-7zM12 6.2a2.8 2.8 0 1 0 0.001 0z"/><path fill="#fff" fill-rule="evenodd" transform="translate(275.66,406.04) scale(1.4286)" d="M12 2C8.13 2 5 5.13 5 9c0 5.25 7 13 7 13s7-7.75 7-13c0-3.87-3.13-7-7-7zM12 6.2a2.8 2.8 0 1 0 0.001 0z"/><path fill="#fff" fill-rule="evenodd" transform="translate(207.76,458.24) scale(1.4286)" d="M12 2C8.13 2 5 5.13 5 9c0 5.25 7 13 7 13s7-7.75 7-13c0-3.87-3.13-7-7-7zM12 6.2a2.8 2.8 0 1 0 0.001 0z"/><path fill="#fff" fill-rule="evenodd" transform="translate(288.76,459.24) scale(1.4286)" d="M12 2C8.13 2 5 5.13 5 9c0 5.25 7 13 7 13s7-7.75 7-13c0-3.87-3.13-7-7-7zM12 6.2a2.8 2.8 0 1 0 0.001 0z"/><path fill="#fff" fill-rule="evenodd" transform="translate(206.76,503.94) scale(1.4286)" d="M12 2C8.13 2 5 5.13 5 9c0 5.25 7 13 7 13s7-7.75 7-13c0-3.87-3.13-7-7-7zM12 6.2a2.8 2.8 0 1 0 0.001 0z"/><path fill="#fff" fill-rule="evenodd" transform="translate(193.76,538.34) scale(1.4286)" d="M12 2C8.13 2 5 5.13 5 9c0 5.25 7 13 7 13s7-7.75 7-13c0-3.87-3.13-7-7-7zM12 6.2a2.8 2.8 0 1 0 0.001 0z"/><path fill="#fff" fill-rule="evenodd" transform="translate(171.96,603.94) scale(1.4286)" d="M12 2C8.13 2 5 5.13 5 9c0 5.25 7 13 7 13s7-7.75 7-13c0-3.87-3.13-7-7-7zM12 6.2a2.8 2.8 0 1 0 0.001 0z"/><path fill="#fff" fill-rule="evenodd" transform="translate(187.86,645.14) scale(1.4286)" d="M12 2C8.13 2 5 5.13 5 9c0 5.25 7 13 7 13s7-7.75 7-13c0-3.87-3.13-7-7-7zM12 6.2a2.8 2.8 0 1 0 0.001 0z"/><path fill="#fff" fill-rule="evenodd" transform="translate(130.86,663.94) scale(1.4286)" d="M12 2C8.13 2 5 5.13 5 9c0 5.25 7 13 7 13s7-7.75 7-13c0-3.87-3.13-7-7-7zM12 6.2a2.8 2.8 0 1 0 0.001 0z"/><path fill="#fff" fill-rule="evenodd" transform="translate(219.66,726.24) scale(1.4286)" d="M12 2C8.13 2 5 5.13 5 9c0 5.25 7 13 7 13s7-7.75 7-13c0-3.87-3.13-7-7-7zM12 6.2a2.8 2.8 0 1 0 0.001 0z"/><path fill="#fff" fill-rule="evenodd" transform="translate(164.86,745.34) scale(1.4286)" d="M12 2C8.13 2 5 5.13 5 9c0 5.25 7 13 7 13s7-7.75 7-13c0-3.87-3.13-7-7-7zM12 6.2a2.8 2.8 0 1 0 0.001 0z"/><path fill="#fff" fill-rule="evenodd" transform="translate(170.86,770.34) scale(1.4286)" d="M12 2C8.13 2 5 5.13 5 9c0 5.25 7 13 7 13s7-7.75 7-13c0-3.87-3.13-7-7-7zM12 6.2a2.8 2.8 0 1 0 0.001 0z"/><path fill="#fff" fill-rule="evenodd" transform="translate(208.76,798.94) scale(1.4286)" d="M12 2C8.13 2 5 5.13 5 9c0 5.25 7 13 7 13s7-7.75 7-13c0-3.87-3.13-7-7-7zM12 6.2a2.8 2.8 0 1 0 0.001 0z"/><g style="will-change:transform"><text x="238.3" y="59.3" fill="#fff" font-family="Liberation Sans, Arial, sans-serif" font-size="16.5" letter-spacing="2.6" stroke="#fff" stroke-width="0.55">nal</text><text x="276.3" y="96.6" fill="#fff" font-family="Liberation Sans, Arial, sans-serif" font-size="16.5" letter-spacing="2.6" stroke="#fff" stroke-width="0.55">lyr</text><text x="376.1" y="176.5" fill="#fff" font-family="Liberation Sans, Arial, sans-serif" font-size="16.5" letter-spacing="2.6" stroke="#fff" stroke-width="0.55">hop</text><text x="312.1" y="265.5" fill="#fff" font-family="Liberation Sans, Arial, sans-serif" font-size="16.5" letter-spacing="2.6" stroke="#fff" stroke-width="0.55">bjn</text><text x="382.1" y="383.5" fill="#fff" font-family="Liberation Sans, Arial, sans-serif" font-size="16.5" letter-spacing="2.6" stroke="#fff" stroke-width="0.55">nor</text><text x="350.1" y="401.5" fill="#fff" font-family="Liberation Sans, Arial, sans-serif" font-size="16.5" letter-spacing="2.6" stroke="#fff" stroke-width="0.55">sor</text><text x="312.0" y="430.5" fill="#fff" font-family="Liberation Sans, Arial, sans-serif" font-size="16.5" letter-spacing="2.6" stroke="#fff" stroke-width="0.55">tro</text><text x="244.1" y="482.7" fill="#fff" font-family="Liberation Sans, Arial, sans-serif" font-size="16.5" letter-spacing="2.6" stroke="#fff" stroke-width="0.55">rst</text><text x="325.1" y="483.7" fill="#fff" font-family="Liberation Sans, Arial, sans-serif" font-size="16.5" letter-spacing="2.6" stroke="#fff" stroke-width="0.55">kir</text><text x="243.1" y="528.4" fill="#fff" font-family="Liberation Sans, Arial, sans-serif" font-size="16.5" letter-spacing="2.6" stroke="#fff" stroke-width="0.55">don</text><text x="230.1" y="562.8" fill="#fff" font-family="Liberation Sans, Arial, sans-serif" font-size="16.5" letter-spacing="2.6" stroke="#fff" stroke-width="0.55">rvk</text><text x="208.3" y="628.4" fill="#fff" font-family="Liberation Sans, Arial, sans-serif" font-size="16.5" letter-spacing="2.6" stroke="#fff" stroke-width="0.55">dob</text><text x="224.2" y="669.6" fill="#fff" font-family="Liberation Sans, Arial, sans-serif" font-size="16.5" letter-spacing="2.6" stroke="#fff" stroke-width="0.55">har</text><text x="167.2" y="688.4" fill="#fff" font-family="Liberation Sans, Arial, sans-serif" font-size="16.5" letter-spacing="2.6" stroke="#fff" stroke-width="0.55">kar</text><text x="256.0" y="750.7" fill="#fff" font-family="Liberation Sans, Arial, sans-serif" font-size="16.5" letter-spacing="2.6" stroke="#fff" stroke-width="0.55">top</text><text x="201.2" y="769.8" fill="#fff" font-family="Liberation Sans, Arial, sans-serif" font-size="16.5" letter-spacing="2.6" stroke="#fff" stroke-width="0.55">roe</text><text x="207.2" y="794.8" fill="#fff" font-family="Liberation Sans, Arial, sans-serif" font-size="16.5" letter-spacing="2.6" stroke="#fff" stroke-width="0.55">wng</text><text x="245.1" y="823.4" fill="#fff" font-family="Liberation Sans, Arial, sans-serif" font-size="16.5" letter-spacing="2.6" stroke="#fff" stroke-width="0.55">ngk</text></g></svg></div></body></html>
